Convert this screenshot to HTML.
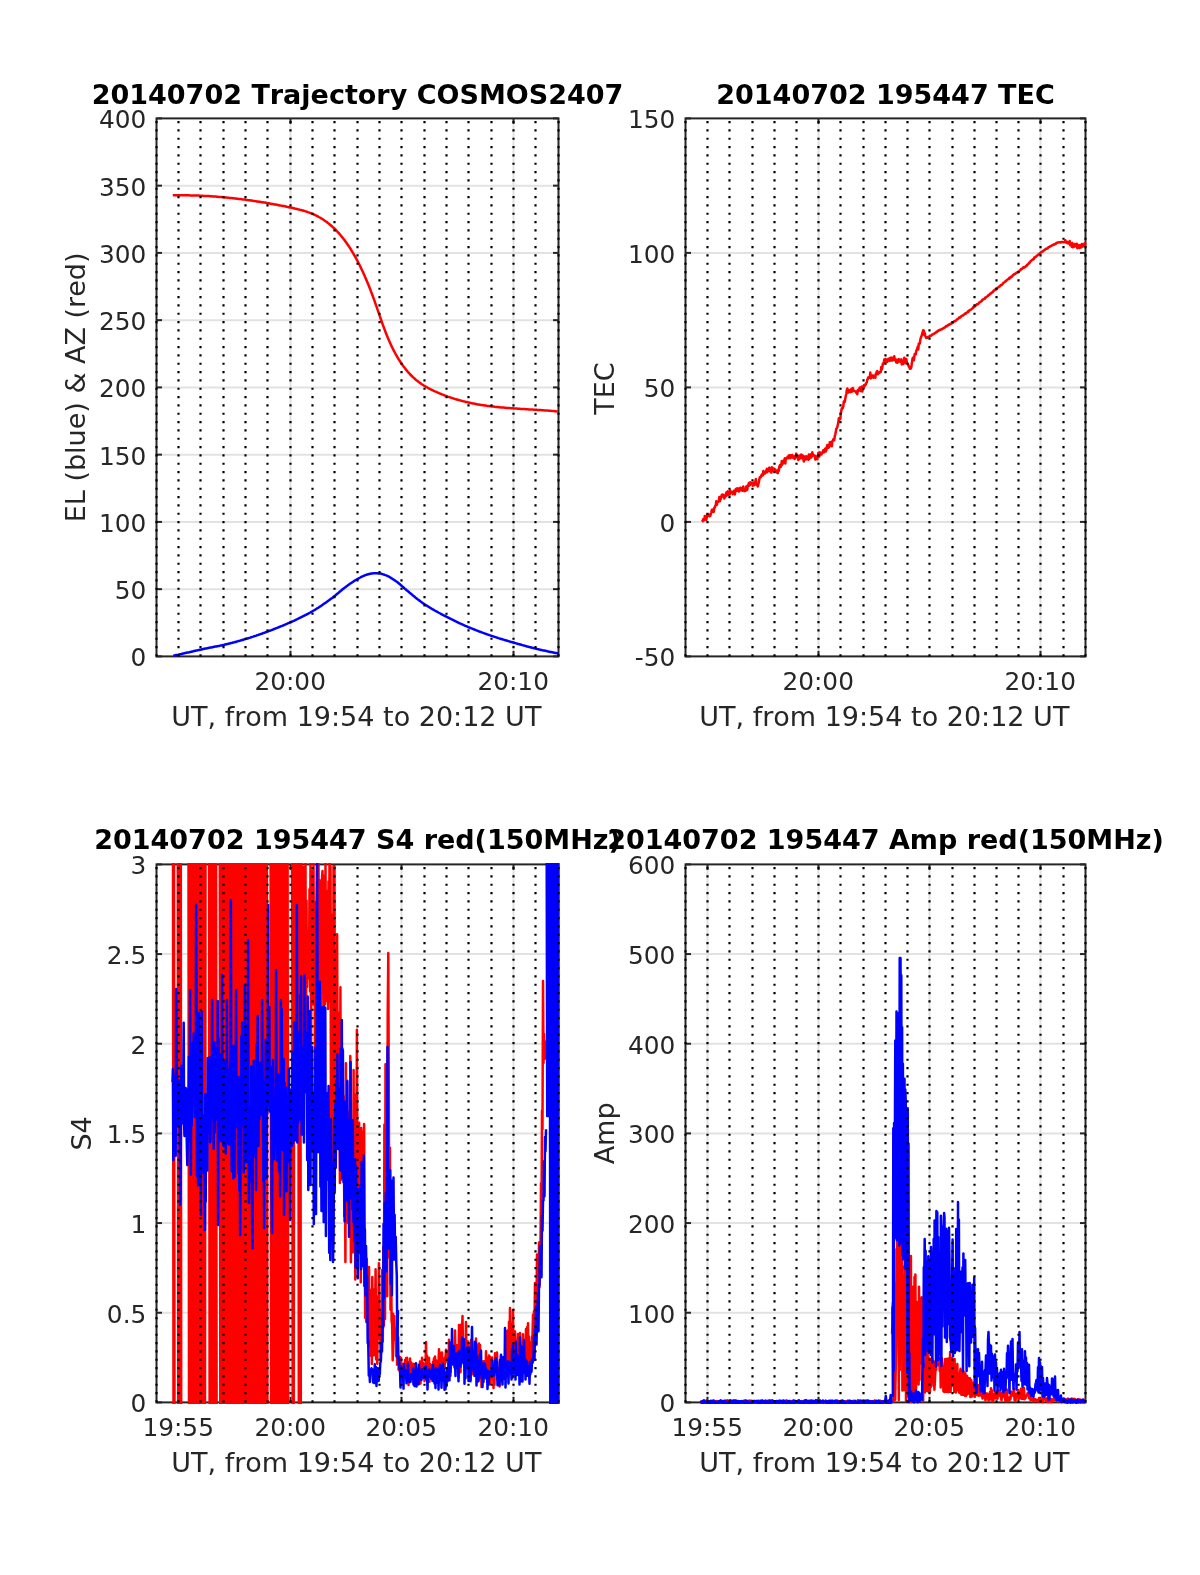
<!DOCTYPE html><html><head><meta charset="utf-8"><title>figure</title><style>html,body{margin:0;padding:0;background:#fff}svg{display:block;will-change:transform}text{font-kerning:none}</style></head><body>
<svg width="1200" height="1575" viewBox="0 0 1200 1575" font-family="'DejaVu Sans','Liberation Sans',sans-serif" font-size="24.8" fill="#262626">
<defs><clipPath id="c1"><rect x="155.5" y="116.9" width="404.0" height="541.0"/></clipPath><clipPath id="c2"><rect x="684.5" y="116.9" width="402.0" height="541.0"/></clipPath><clipPath id="c3"><rect x="155.5" y="862.9" width="404.0" height="541.0000000000001"/></clipPath><clipPath id="c4"><rect x="684.5" y="862.9" width="402.0" height="541.0000000000001"/></clipPath></defs>
<rect width="1200" height="1575" fill="#fff"/>
<line x1="156.5" y1="589.15" x2="558.5" y2="589.15" stroke="#e2e2e2" stroke-width="2"/>
<line x1="156.5" y1="521.90" x2="558.5" y2="521.90" stroke="#e2e2e2" stroke-width="2"/>
<line x1="156.5" y1="454.65" x2="558.5" y2="454.65" stroke="#e2e2e2" stroke-width="2"/>
<line x1="156.5" y1="387.40" x2="558.5" y2="387.40" stroke="#e2e2e2" stroke-width="2"/>
<line x1="156.5" y1="320.15" x2="558.5" y2="320.15" stroke="#e2e2e2" stroke-width="2"/>
<line x1="156.5" y1="252.90" x2="558.5" y2="252.90" stroke="#e2e2e2" stroke-width="2"/>
<line x1="156.5" y1="185.65" x2="558.5" y2="185.65" stroke="#e2e2e2" stroke-width="2"/>
<line x1="290.50" y1="118.4" x2="290.50" y2="656.4" stroke="#e2e2e2" stroke-width="2"/>
<line x1="513.50" y1="118.4" x2="513.50" y2="656.4" stroke="#e2e2e2" stroke-width="2"/>
<rect x="156.5" y="118.4" width="402.0" height="538.0" fill="none" stroke="#262626" stroke-width="2"/>
<line x1="156.5" y1="656.40" x2="162.0" y2="656.40" stroke="#262626" stroke-width="2"/>
<line x1="558.5" y1="656.40" x2="553.0" y2="656.40" stroke="#262626" stroke-width="2"/>
<line x1="156.5" y1="589.15" x2="162.0" y2="589.15" stroke="#262626" stroke-width="2"/>
<line x1="558.5" y1="589.15" x2="553.0" y2="589.15" stroke="#262626" stroke-width="2"/>
<line x1="156.5" y1="521.90" x2="162.0" y2="521.90" stroke="#262626" stroke-width="2"/>
<line x1="558.5" y1="521.90" x2="553.0" y2="521.90" stroke="#262626" stroke-width="2"/>
<line x1="156.5" y1="454.65" x2="162.0" y2="454.65" stroke="#262626" stroke-width="2"/>
<line x1="558.5" y1="454.65" x2="553.0" y2="454.65" stroke="#262626" stroke-width="2"/>
<line x1="156.5" y1="387.40" x2="162.0" y2="387.40" stroke="#262626" stroke-width="2"/>
<line x1="558.5" y1="387.40" x2="553.0" y2="387.40" stroke="#262626" stroke-width="2"/>
<line x1="156.5" y1="320.15" x2="162.0" y2="320.15" stroke="#262626" stroke-width="2"/>
<line x1="558.5" y1="320.15" x2="553.0" y2="320.15" stroke="#262626" stroke-width="2"/>
<line x1="156.5" y1="252.90" x2="162.0" y2="252.90" stroke="#262626" stroke-width="2"/>
<line x1="558.5" y1="252.90" x2="553.0" y2="252.90" stroke="#262626" stroke-width="2"/>
<line x1="156.5" y1="185.65" x2="162.0" y2="185.65" stroke="#262626" stroke-width="2"/>
<line x1="558.5" y1="185.65" x2="553.0" y2="185.65" stroke="#262626" stroke-width="2"/>
<line x1="156.5" y1="118.40" x2="162.0" y2="118.40" stroke="#262626" stroke-width="2"/>
<line x1="558.5" y1="118.40" x2="553.0" y2="118.40" stroke="#262626" stroke-width="2"/>
<line x1="290.50" y1="656.4" x2="290.50" y2="650.9" stroke="#262626" stroke-width="2"/>
<line x1="290.50" y1="118.4" x2="290.50" y2="123.9" stroke="#262626" stroke-width="2"/>
<line x1="513.50" y1="656.4" x2="513.50" y2="650.9" stroke="#262626" stroke-width="2"/>
<line x1="513.50" y1="118.4" x2="513.50" y2="123.9" stroke="#262626" stroke-width="2"/>
<g clip-path="url(#c1)" fill="none" stroke-linejoin="round">
<polyline points="172.8,195.3 173.8,195.3 174.8,195.3 175.8,195.3 176.8,195.3 177.8,195.3 178.8,195.3 179.8,195.3 180.8,195.3 181.8,195.3 182.8,195.3 183.8,195.3 184.8,195.3 185.8,195.3 186.8,195.3 187.8,195.3 188.8,195.3 189.8,195.4 190.8,195.4 191.8,195.4 192.8,195.4 193.8,195.5 194.8,195.5 195.8,195.5 196.8,195.6 197.8,195.6 198.8,195.6 199.8,195.7 200.8,195.7 201.8,195.8 202.8,195.8 203.8,195.9 204.8,195.9 205.8,196.0 206.8,196.0 207.8,196.1 208.8,196.1 209.8,196.2 210.8,196.3 211.8,196.3 212.8,196.4 213.8,196.5 214.8,196.5 215.8,196.6 216.8,196.7 217.8,196.8 218.8,196.9 219.8,196.9 220.8,197.0 221.8,197.1 222.8,197.2 223.8,197.3 224.8,197.4 225.8,197.5 226.8,197.6 227.8,197.7 228.8,197.8 229.8,197.9 230.8,198.0 231.8,198.1 232.8,198.2 233.8,198.3 234.8,198.4 235.8,198.5 236.8,198.7 237.8,198.8 238.8,198.9 239.8,199.0 240.8,199.1 241.8,199.3 242.8,199.4 243.8,199.5 244.8,199.6 245.8,199.8 246.8,199.9 247.8,200.1 248.8,200.2 249.8,200.3 250.8,200.5 251.8,200.6 252.8,200.8 253.8,200.9 254.8,201.1 255.8,201.2 256.8,201.4 257.8,201.5 258.8,201.7 259.8,201.8 260.8,202.0 261.8,202.2 262.8,202.3 263.8,202.5 264.8,202.6 265.8,202.8 266.8,203.0 267.8,203.2 268.8,203.3 269.8,203.5 270.8,203.7 271.8,203.9 272.8,204.0 273.8,204.2 274.8,204.4 275.8,204.6 276.8,204.8 277.8,205.0 278.8,205.2 279.8,205.4 280.8,205.6 281.8,205.7 282.8,205.9 283.8,206.1 284.8,206.3 285.8,206.5 286.8,206.8 287.8,207.0 288.8,207.2 289.8,207.4 290.8,207.6 291.8,207.8 292.8,208.0 293.8,208.2 294.8,208.5 295.8,208.7 296.8,208.9 297.8,209.2 298.8,209.4 299.8,209.7 300.8,209.9 301.8,210.2 302.8,210.5 303.8,210.8 304.8,211.1 305.8,211.4 306.8,211.7 307.8,212.1 308.8,212.4 309.8,212.8 310.8,213.2 311.8,213.6 312.8,214.0 313.8,214.5 314.8,214.9 315.8,215.4 316.8,215.9 317.8,216.4 318.8,217.0 319.8,217.5 320.8,218.1 321.8,218.7 322.8,219.3 323.8,220.0 324.8,220.7 325.8,221.4 326.8,222.1 327.8,222.9 328.8,223.6 329.8,224.5 330.8,225.3 331.8,226.2 332.8,227.1 333.8,228.0 334.8,229.0 335.8,230.0 336.8,231.0 337.8,232.1 338.8,233.2 339.8,234.3 340.8,235.5 341.8,236.7 342.8,237.9 343.8,239.2 344.8,240.5 345.8,241.9 346.8,243.3 347.8,244.8 348.8,246.2 349.8,247.8 350.8,249.3 351.8,251.0 352.8,252.6 353.8,254.3 354.8,256.1 355.8,257.9 356.8,259.7 357.8,261.6 358.8,263.5 359.8,265.5 360.8,267.6 361.8,269.7 362.8,271.8 363.8,274.0 364.8,276.2 365.8,278.5 366.8,280.9 367.8,283.3 368.8,285.8 369.8,288.3 370.8,290.9 371.8,293.5 372.8,296.2 373.8,298.9 374.8,301.7 375.8,304.6 376.8,307.4 377.8,310.3 378.8,313.2 379.8,316.1 380.8,319.0 381.8,321.8 382.8,324.7 383.8,327.4 384.8,330.1 385.8,332.7 386.8,335.2 387.8,337.7 388.8,340.0 389.8,342.3 390.8,344.5 391.8,346.6 392.8,348.7 393.8,350.6 394.8,352.5 395.8,354.4 396.8,356.1 397.8,357.8 398.8,359.5 399.8,361.0 400.8,362.6 401.8,364.0 402.8,365.5 403.8,366.8 404.8,368.1 405.8,369.4 406.8,370.6 407.8,371.8 408.8,372.9 409.8,374.0 410.8,375.0 411.8,376.0 412.8,377.0 413.8,377.9 414.8,378.8 415.8,379.7 416.8,380.5 417.8,381.3 418.8,382.1 419.8,382.8 420.8,383.5 421.8,384.2 422.8,384.8 423.8,385.5 424.8,386.1 425.8,386.7 426.8,387.2 427.8,387.8 428.8,388.3 429.8,388.8 430.8,389.3 431.8,389.8 432.8,390.3 433.8,390.8 434.8,391.3 435.8,391.7 436.8,392.2 437.8,392.6 438.8,393.0 439.8,393.5 440.8,393.9 441.8,394.3 442.8,394.7 443.8,395.1 444.8,395.5 445.8,395.8 446.8,396.2 447.8,396.6 448.8,396.9 449.8,397.3 450.8,397.6 451.8,397.9 452.8,398.3 453.8,398.6 454.8,398.9 455.8,399.2 456.8,399.5 457.8,399.8 458.8,400.1 459.8,400.3 460.8,400.6 461.8,400.9 462.8,401.1 463.8,401.4 464.8,401.6 465.8,401.9 466.8,402.1 467.8,402.3 468.8,402.6 469.8,402.8 470.8,403.0 471.8,403.2 472.8,403.4 473.8,403.6 474.8,403.8 475.8,404.0 476.8,404.2 477.8,404.4 478.8,404.5 479.8,404.7 480.8,404.9 481.8,405.0 482.8,405.2 483.8,405.3 484.8,405.5 485.8,405.6 486.8,405.8 487.8,405.9 488.8,406.0 489.8,406.2 490.8,406.3 491.8,406.4 492.8,406.5 493.8,406.6 494.8,406.8 495.8,406.9 496.8,407.0 497.8,407.1 498.8,407.2 499.8,407.3 500.8,407.4 501.8,407.5 502.8,407.6 503.8,407.6 504.8,407.7 505.8,407.8 506.8,407.9 507.8,408.0 508.8,408.1 509.8,408.1 510.8,408.2 511.8,408.3 512.8,408.3 513.8,408.4 514.8,408.5 515.8,408.6 516.8,408.6 517.8,408.7 518.8,408.7 519.8,408.8 520.8,408.9 521.8,408.9 522.8,409.0 523.8,409.1 524.8,409.1 525.8,409.2 526.8,409.2 527.8,409.3 528.8,409.4 529.8,409.4 530.8,409.5 531.8,409.5 532.8,409.6 533.8,409.7 534.8,409.7 535.8,409.8 536.8,409.8 537.8,409.9 538.8,410.0 539.8,410.0 540.8,410.1 541.8,410.2 542.8,410.2 543.8,410.3 544.8,410.4 545.8,410.4 546.8,410.5 547.8,410.6 548.8,410.7 549.8,410.7 550.8,410.8 551.8,410.9 552.8,411.0 553.8,411.1 554.8,411.2 555.8,411.3 556.8,411.4 557.8,411.5" stroke="#f00" stroke-width="2.5"/>
<polyline points="173.3,655.8 174.3,655.6 175.3,655.3 176.3,655.1 177.3,654.9 178.3,654.7 179.3,654.4 180.3,654.2 181.3,654.0 182.3,653.7 183.3,653.5 184.3,653.3 185.3,653.1 186.3,652.8 187.3,652.6 188.3,652.4 189.3,652.2 190.3,651.9 191.3,651.7 192.3,651.5 193.3,651.3 194.3,651.0 195.3,650.8 196.3,650.6 197.3,650.4 198.3,650.1 199.3,649.9 200.3,649.7 201.3,649.5 202.3,649.2 203.3,649.0 204.3,648.8 205.3,648.6 206.3,648.4 207.3,648.2 208.3,648.0 209.3,647.8 210.3,647.6 211.3,647.4 212.3,647.2 213.3,647.0 214.3,646.8 215.3,646.6 216.3,646.4 217.3,646.2 218.3,646.1 219.3,645.9 220.3,645.6 221.3,645.4 222.3,645.2 223.3,645.0 224.3,644.8 225.3,644.5 226.3,644.3 227.3,644.1 228.3,643.8 229.3,643.6 230.3,643.3 231.3,643.0 232.3,642.8 233.3,642.5 234.3,642.3 235.3,642.0 236.3,641.7 237.3,641.4 238.3,641.1 239.3,640.9 240.3,640.6 241.3,640.3 242.3,640.0 243.3,639.7 244.3,639.4 245.3,639.1 246.3,638.8 247.3,638.5 248.3,638.2 249.3,637.9 250.3,637.6 251.3,637.2 252.3,636.9 253.3,636.6 254.3,636.2 255.3,635.9 256.3,635.6 257.3,635.2 258.3,634.9 259.3,634.5 260.3,634.2 261.3,633.8 262.3,633.5 263.3,633.1 264.3,632.8 265.3,632.4 266.3,632.0 267.3,631.7 268.3,631.3 269.3,630.9 270.3,630.5 271.3,630.2 272.3,629.8 273.3,629.4 274.3,629.0 275.3,628.6 276.3,628.2 277.3,627.8 278.3,627.4 279.3,627.0 280.3,626.6 281.3,626.2 282.3,625.8 283.3,625.4 284.3,625.0 285.3,624.5 286.3,624.1 287.3,623.7 288.3,623.2 289.3,622.8 290.3,622.4 291.3,621.9 292.3,621.5 293.3,621.0 294.3,620.6 295.3,620.1 296.3,619.6 297.3,619.2 298.3,618.7 299.3,618.2 300.3,617.7 301.3,617.2 302.3,616.7 303.3,616.2 304.3,615.7 305.3,615.2 306.3,614.7 307.3,614.1 308.3,613.6 309.3,613.0 310.3,612.5 311.3,611.9 312.3,611.4 313.3,610.8 314.3,610.2 315.3,609.6 316.3,608.9 317.3,608.3 318.3,607.7 319.3,607.0 320.3,606.4 321.3,605.7 322.3,605.0 323.3,604.3 324.3,603.6 325.3,602.9 326.3,602.2 327.3,601.5 328.3,600.8 329.3,600.1 330.3,599.3 331.3,598.6 332.3,597.9 333.3,597.1 334.3,596.3 335.3,595.5 336.3,594.6 337.3,593.8 338.3,593.0 339.3,592.1 340.3,591.3 341.3,590.4 342.3,589.6 343.3,588.8 344.3,588.0 345.3,587.3 346.3,586.5 347.3,585.8 348.3,585.0 349.3,584.3 350.3,583.6 351.3,582.9 352.3,582.2 353.3,581.6 354.3,580.9 355.3,580.3 356.3,579.7 357.3,579.1 358.3,578.6 359.3,578.0 360.3,577.5 361.3,576.9 362.3,576.5 363.3,576.0 364.3,575.6 365.3,575.2 366.3,574.8 367.3,574.5 368.3,574.2 369.3,573.9 370.3,573.7 371.3,573.5 372.3,573.4 373.3,573.3 374.3,573.2 375.3,573.2 376.3,573.3 377.3,573.3 378.3,573.4 379.3,573.5 380.3,573.6 381.3,573.8 382.3,574.1 383.3,574.4 384.3,574.7 385.3,575.1 386.3,575.4 387.3,575.9 388.3,576.3 389.3,576.9 390.3,577.5 391.3,578.1 392.3,578.7 393.3,579.4 394.3,580.0 395.3,580.7 396.3,581.4 397.3,582.1 398.3,582.9 399.3,583.8 400.3,584.6 401.3,585.5 402.3,586.4 403.3,587.3 404.3,588.2 405.3,589.0 406.3,589.9 407.3,590.7 408.3,591.5 409.3,592.4 410.3,593.2 411.3,594.0 412.3,594.9 413.3,595.7 414.3,596.5 415.3,597.4 416.3,598.2 417.3,599.0 418.3,599.7 419.3,600.5 420.3,601.3 421.3,602.0 422.3,602.7 423.3,603.4 424.3,604.1 425.3,604.7 426.3,605.4 427.3,606.0 428.3,606.6 429.3,607.3 430.3,607.9 431.3,608.5 432.3,609.1 433.3,609.6 434.3,610.2 435.3,610.8 436.3,611.3 437.3,611.9 438.3,612.5 439.3,613.0 440.3,613.5 441.3,614.1 442.3,614.6 443.3,615.1 444.3,615.7 445.3,616.2 446.3,616.7 447.3,617.2 448.3,617.7 449.3,618.2 450.3,618.7 451.3,619.2 452.3,619.7 453.3,620.2 454.3,620.7 455.3,621.2 456.3,621.7 457.3,622.1 458.3,622.6 459.3,623.1 460.3,623.5 461.3,624.0 462.3,624.4 463.3,624.9 464.3,625.3 465.3,625.8 466.3,626.2 467.3,626.6 468.3,627.1 469.3,627.5 470.3,627.9 471.3,628.3 472.3,628.7 473.3,629.1 474.3,629.5 475.3,629.9 476.3,630.3 477.3,630.7 478.3,631.1 479.3,631.5 480.3,631.8 481.3,632.2 482.3,632.6 483.3,632.9 484.3,633.3 485.3,633.7 486.3,634.0 487.3,634.4 488.3,634.7 489.3,635.1 490.3,635.4 491.3,635.8 492.3,636.1 493.3,636.4 494.3,636.8 495.3,637.1 496.3,637.4 497.3,637.7 498.3,638.1 499.3,638.4 500.3,638.7 501.3,639.0 502.3,639.3 503.3,639.6 504.3,639.9 505.3,640.2 506.3,640.5 507.3,640.8 508.3,641.1 509.3,641.4 510.3,641.7 511.3,642.0 512.3,642.2 513.3,642.5 514.3,642.8 515.3,643.1 516.3,643.4 517.3,643.7 518.3,644.0 519.3,644.2 520.3,644.5 521.3,644.8 522.3,645.1 523.3,645.4 524.3,645.6 525.3,645.9 526.3,646.2 527.3,646.5 528.3,646.7 529.3,647.0 530.3,647.2 531.3,647.5 532.3,647.8 533.3,648.0 534.3,648.3 535.3,648.5 536.3,648.7 537.3,649.0 538.3,649.2 539.3,649.5 540.3,649.7 541.3,649.9 542.3,650.2 543.3,650.4 544.3,650.6 545.3,650.8 546.3,651.0 547.3,651.3 548.3,651.5 549.3,651.7 550.3,651.9 551.3,652.1 552.3,652.3 553.3,652.5 554.3,652.7 555.3,652.9 556.3,653.1 557.3,653.3 558.3,653.5" stroke="#00f" stroke-width="2.5"/>
</g>
<line x1="156.50" y1="656.4" x2="156.50" y2="118.4" stroke="#000" stroke-width="2.2" stroke-dasharray="2.2 6.133" stroke-dashoffset="0.1"/>
<line x1="178.50" y1="656.4" x2="178.50" y2="118.4" stroke="#000" stroke-width="2.2" stroke-dasharray="2.2 6.133" stroke-dashoffset="0.1"/>
<line x1="200.50" y1="656.4" x2="200.50" y2="118.4" stroke="#000" stroke-width="2.2" stroke-dasharray="2.2 6.133" stroke-dashoffset="0.1"/>
<line x1="223.50" y1="656.4" x2="223.50" y2="118.4" stroke="#000" stroke-width="2.2" stroke-dasharray="2.2 6.133" stroke-dashoffset="0.1"/>
<line x1="245.50" y1="656.4" x2="245.50" y2="118.4" stroke="#000" stroke-width="2.2" stroke-dasharray="2.2 6.133" stroke-dashoffset="0.1"/>
<line x1="267.50" y1="656.4" x2="267.50" y2="118.4" stroke="#000" stroke-width="2.2" stroke-dasharray="2.2 6.133" stroke-dashoffset="0.1"/>
<line x1="290.50" y1="656.4" x2="290.50" y2="118.4" stroke="#000" stroke-width="2.2" stroke-dasharray="2.2 6.133" stroke-dashoffset="0.1"/>
<line x1="312.50" y1="656.4" x2="312.50" y2="118.4" stroke="#000" stroke-width="2.2" stroke-dasharray="2.2 6.133" stroke-dashoffset="0.1"/>
<line x1="334.50" y1="656.4" x2="334.50" y2="118.4" stroke="#000" stroke-width="2.2" stroke-dasharray="2.2 6.133" stroke-dashoffset="0.1"/>
<line x1="357.50" y1="656.4" x2="357.50" y2="118.4" stroke="#000" stroke-width="2.2" stroke-dasharray="2.2 6.133" stroke-dashoffset="0.1"/>
<line x1="379.50" y1="656.4" x2="379.50" y2="118.4" stroke="#000" stroke-width="2.2" stroke-dasharray="2.2 6.133" stroke-dashoffset="0.1"/>
<line x1="401.50" y1="656.4" x2="401.50" y2="118.4" stroke="#000" stroke-width="2.2" stroke-dasharray="2.2 6.133" stroke-dashoffset="0.1"/>
<line x1="424.50" y1="656.4" x2="424.50" y2="118.4" stroke="#000" stroke-width="2.2" stroke-dasharray="2.2 6.133" stroke-dashoffset="0.1"/>
<line x1="446.50" y1="656.4" x2="446.50" y2="118.4" stroke="#000" stroke-width="2.2" stroke-dasharray="2.2 6.133" stroke-dashoffset="0.1"/>
<line x1="468.50" y1="656.4" x2="468.50" y2="118.4" stroke="#000" stroke-width="2.2" stroke-dasharray="2.2 6.133" stroke-dashoffset="0.1"/>
<line x1="491.50" y1="656.4" x2="491.50" y2="118.4" stroke="#000" stroke-width="2.2" stroke-dasharray="2.2 6.133" stroke-dashoffset="0.1"/>
<line x1="513.50" y1="656.4" x2="513.50" y2="118.4" stroke="#000" stroke-width="2.2" stroke-dasharray="2.2 6.133" stroke-dashoffset="0.1"/>
<line x1="535.50" y1="656.4" x2="535.50" y2="118.4" stroke="#000" stroke-width="2.2" stroke-dasharray="2.2 6.133" stroke-dashoffset="0.1"/>
<line x1="558.50" y1="656.4" x2="558.50" y2="118.4" stroke="#000" stroke-width="2.2" stroke-dasharray="2.2 6.133" stroke-dashoffset="0.1"/>
<text x="146.30" y="666.30" text-anchor="end">0</text>
<text x="146.30" y="599.05" text-anchor="end">50</text>
<text x="146.30" y="531.80" text-anchor="end">100</text>
<text x="146.30" y="464.55" text-anchor="end">150</text>
<text x="146.30" y="397.30" text-anchor="end">200</text>
<text x="146.30" y="330.05" text-anchor="end">250</text>
<text x="146.30" y="262.80" text-anchor="end">300</text>
<text x="146.30" y="195.55" text-anchor="end">350</text>
<text x="146.30" y="128.30" text-anchor="end">400</text>
<text x="290.20" y="690.10" text-anchor="middle">20:00</text>
<text x="513.20" y="690.10" text-anchor="middle">20:10</text>
<text x="357.50" y="103.90" text-anchor="middle" font-size="27" font-weight="bold" fill="#000">20140702 Trajectory COSMOS2407</text>
<text x="356.30" y="725.80" text-anchor="middle" font-size="27">UT, from 19:54 to 20:12 UT</text>
<text transform="translate(84.80,387.40) rotate(-90)" x="0" y="0" text-anchor="middle" font-size="27">EL (blue) &amp; AZ (red)</text>
<line x1="685.5" y1="521.90" x2="1085.5" y2="521.90" stroke="#e2e2e2" stroke-width="2"/>
<line x1="685.5" y1="387.40" x2="1085.5" y2="387.40" stroke="#e2e2e2" stroke-width="2"/>
<line x1="685.5" y1="252.90" x2="1085.5" y2="252.90" stroke="#e2e2e2" stroke-width="2"/>
<line x1="818.50" y1="118.4" x2="818.50" y2="656.4" stroke="#e2e2e2" stroke-width="2"/>
<line x1="1040.50" y1="118.4" x2="1040.50" y2="656.4" stroke="#e2e2e2" stroke-width="2"/>
<rect x="685.5" y="118.4" width="400.0" height="538.0" fill="none" stroke="#262626" stroke-width="2"/>
<line x1="685.5" y1="656.40" x2="691.0" y2="656.40" stroke="#262626" stroke-width="2"/>
<line x1="1085.5" y1="656.40" x2="1080.0" y2="656.40" stroke="#262626" stroke-width="2"/>
<line x1="685.5" y1="521.90" x2="691.0" y2="521.90" stroke="#262626" stroke-width="2"/>
<line x1="1085.5" y1="521.90" x2="1080.0" y2="521.90" stroke="#262626" stroke-width="2"/>
<line x1="685.5" y1="387.40" x2="691.0" y2="387.40" stroke="#262626" stroke-width="2"/>
<line x1="1085.5" y1="387.40" x2="1080.0" y2="387.40" stroke="#262626" stroke-width="2"/>
<line x1="685.5" y1="252.90" x2="691.0" y2="252.90" stroke="#262626" stroke-width="2"/>
<line x1="1085.5" y1="252.90" x2="1080.0" y2="252.90" stroke="#262626" stroke-width="2"/>
<line x1="685.5" y1="118.40" x2="691.0" y2="118.40" stroke="#262626" stroke-width="2"/>
<line x1="1085.5" y1="118.40" x2="1080.0" y2="118.40" stroke="#262626" stroke-width="2"/>
<line x1="818.50" y1="656.4" x2="818.50" y2="650.9" stroke="#262626" stroke-width="2"/>
<line x1="818.50" y1="118.4" x2="818.50" y2="123.9" stroke="#262626" stroke-width="2"/>
<line x1="1040.50" y1="656.4" x2="1040.50" y2="650.9" stroke="#262626" stroke-width="2"/>
<line x1="1040.50" y1="118.4" x2="1040.50" y2="123.9" stroke="#262626" stroke-width="2"/>
<g clip-path="url(#c2)" fill="none" stroke-linejoin="round">
<polyline points="701.8,519.4 702.3,519.6 702.8,521.2 703.3,519.2 703.8,520.3 704.3,520.2 704.8,516.0 705.3,519.4 705.8,516.2 706.3,519.9 706.8,517.2 707.3,514.6 707.8,515.3 708.3,514.9 708.8,514.8 709.3,516.2 709.8,514.5 710.3,515.9 710.8,514.0 711.3,512.3 711.8,509.9 712.3,509.5 712.8,511.8 713.3,511.7 713.8,511.9 714.3,507.7 714.8,507.8 715.3,505.5 715.8,505.2 716.3,501.2 716.8,505.1 717.3,501.8 717.8,501.9 718.3,501.8 718.8,500.7 719.3,497.1 719.8,501.3 720.3,499.7 720.8,498.9 721.3,496.7 721.8,494.9 722.3,494.5 722.8,496.4 723.3,496.6 723.8,494.9 724.3,498.6 724.8,495.8 725.3,496.6 725.8,496.1 726.3,492.6 726.8,495.5 727.3,494.3 727.8,491.3 728.3,494.3 728.8,494.8 729.3,494.5 729.8,494.6 730.3,490.5 730.8,492.3 731.3,491.7 731.8,492.6 732.3,492.6 732.8,494.1 733.3,493.4 733.8,490.8 734.3,493.4 734.8,494.4 735.3,492.1 735.8,489.0 736.3,490.2 736.8,490.8 737.3,488.3 737.8,490.5 738.3,488.5 738.8,491.6 739.3,491.2 739.8,489.8 740.3,487.8 740.8,490.1 741.3,488.4 741.8,488.1 742.3,490.8 742.8,487.6 743.3,486.5 743.8,489.7 744.3,491.1 744.8,490.5 745.3,488.9 745.8,490.6 746.3,486.4 746.8,490.1 747.3,489.6 747.8,485.3 748.3,486.2 748.8,483.1 749.3,483.2 749.8,485.4 750.3,482.3 750.8,484.2 751.3,484.2 751.8,483.3 752.3,484.3 752.8,485.6 753.3,482.9 753.8,484.3 754.3,485.2 754.8,482.1 755.3,481.9 755.8,479.1 756.3,483.8 756.8,484.9 757.3,484.0 757.8,486.5 758.3,484.4 758.8,482.2 759.3,479.6 759.8,477.2 760.3,477.6 760.8,477.1 761.3,475.5 761.8,474.7 762.3,474.1 762.8,475.4 763.3,471.1 763.8,472.9 764.3,473.1 764.8,473.6 765.3,473.2 765.8,471.3 766.3,470.2 766.8,468.9 767.3,472.2 767.8,470.8 768.3,469.8 768.8,468.1 769.3,467.6 769.8,471.3 770.3,469.5 770.8,470.4 771.3,472.6 771.8,467.3 772.3,468.6 772.8,470.5 773.3,471.0 773.8,468.4 774.3,470.1 774.8,469.3 775.3,469.4 775.8,471.0 776.3,470.8 776.8,472.5 777.3,471.6 777.8,473.1 778.3,469.5 778.8,470.9 779.3,466.8 779.8,465.3 780.3,464.7 780.8,467.0 781.3,465.1 781.8,461.0 782.3,464.7 782.8,463.2 783.3,461.0 783.8,460.5 784.3,460.5 784.8,458.2 785.3,463.6 785.8,458.7 786.3,458.8 786.8,458.3 787.3,457.3 787.8,456.6 788.3,458.2 788.8,455.4 789.3,455.3 789.8,455.6 790.3,458.2 790.8,455.2 791.3,455.2 791.8,457.2 792.3,454.9 792.8,456.1 793.3,458.0 793.8,457.2 794.3,456.5 794.8,458.9 795.3,455.7 795.8,455.3 796.3,453.6 796.8,456.6 797.3,457.7 797.8,455.7 798.3,460.0 798.8,458.8 799.3,458.7 799.8,455.5 800.3,458.0 800.8,458.3 801.3,454.6 801.8,458.0 802.3,457.8 802.8,455.5 803.3,458.9 803.8,461.4 804.3,459.2 804.8,456.5 805.3,457.4 805.8,459.5 806.3,456.2 806.8,458.0 807.3,457.4 807.8,457.6 808.3,459.8 808.8,454.6 809.3,458.9 809.8,457.4 810.3,456.8 810.8,454.3 811.3,457.5 811.8,456.3 812.3,452.3 812.8,454.8 813.3,455.1 813.8,455.4 814.3,456.0 814.8,455.6 815.3,459.5 815.8,458.7 816.3,456.6 816.8,458.5 817.3,459.3 817.8,456.2 818.3,452.9 818.8,455.2 819.3,456.5 819.8,452.2 820.3,453.4 820.8,454.6 821.3,454.6 821.8,453.7 822.3,452.6 822.8,451.4 823.3,450.3 823.8,452.4 824.3,452.0 824.8,449.3 825.3,448.6 825.8,451.4 826.3,450.4 826.8,447.0 827.3,445.0 827.8,447.3 828.3,447.8 828.8,447.4 829.3,446.6 829.8,442.2 830.3,444.2 830.8,442.9 831.3,441.7 831.8,446.3 832.3,441.3 832.8,441.0 833.3,439.3 833.8,440.1 834.3,440.2 834.8,435.9 835.3,434.3 835.8,431.7 836.3,428.8 836.8,428.2 837.3,427.1 837.8,424.7 838.3,422.6 838.8,418.3 839.3,420.2 839.8,418.2 840.3,418.8 840.8,413.6 841.3,410.7 841.8,408.2 842.3,408.6 842.8,407.8 843.3,406.4 843.8,401.5 844.3,401.3 844.8,401.9 845.3,398.5 845.8,395.9 846.3,394.0 846.8,390.1 847.3,388.5 847.8,389.8 848.3,392.6 848.8,392.4 849.3,390.2 849.8,391.4 850.3,391.0 850.8,392.1 851.3,389.0 851.8,390.5 852.3,391.5 852.8,388.0 853.3,389.9 853.8,390.5 854.3,390.9 854.8,391.1 855.3,391.3 855.8,392.1 856.3,392.8 856.8,391.2 857.3,394.2 857.8,390.0 858.3,390.2 858.8,390.8 859.3,388.7 859.8,387.4 860.3,387.4 860.8,391.1 861.3,387.9 861.8,386.6 862.3,391.5 862.8,388.8 863.3,387.8 863.8,385.3 864.3,386.6 864.8,384.7 865.3,385.3 865.8,384.2 866.3,382.9 866.8,382.5 867.3,379.5 867.8,379.1 868.3,377.4 868.8,378.1 869.3,377.5 869.8,377.0 870.3,372.6 870.8,378.4 871.3,375.3 871.8,375.5 872.3,375.6 872.8,375.6 873.3,377.7 873.8,375.9 874.3,376.1 874.8,377.2 875.3,377.8 875.8,373.7 876.3,373.0 876.8,371.5 877.3,371.1 877.8,374.3 878.3,373.6 878.8,373.0 879.3,373.1 879.8,372.0 880.3,372.3 880.8,372.0 881.3,366.9 881.8,369.5 882.3,367.7 882.8,363.7 883.3,364.1 883.8,362.1 884.3,359.5 884.8,362.0 885.3,359.1 885.8,361.5 886.3,359.5 886.8,360.4 887.3,361.9 887.8,360.6 888.3,358.8 888.8,360.2 889.3,360.7 889.8,360.9 890.3,357.8 890.8,360.6 891.3,358.3 891.8,357.6 892.3,360.5 892.8,359.8 893.3,360.0 893.8,359.3 894.3,356.3 894.8,360.1 895.3,360.4 895.8,359.4 896.3,362.5 896.8,360.1 897.3,362.8 897.8,362.1 898.3,359.3 898.8,359.1 899.3,360.0 899.8,360.5 900.3,361.8 900.8,359.8 901.3,359.2 901.8,364.4 902.3,361.1 902.8,361.6 903.3,364.0 903.8,361.5 904.3,357.7 904.8,362.2 905.3,360.6 905.8,363.2 906.3,358.9 906.8,362.1 907.3,363.2 907.8,364.2 908.3,364.9 908.8,366.6 909.3,366.9 909.8,368.6 910.3,367.9 910.8,368.7 911.3,367.3 911.8,363.4 912.3,359.8 912.8,357.8 913.3,358.0 913.8,360.2 914.3,356.8 914.8,353.8 915.3,353.6 915.8,354.3 916.3,350.7 916.8,349.8 917.3,348.5 917.8,346.5 918.3,349.5 918.8,343.5 919.3,343.6 919.8,343.5 920.3,339.8 920.8,337.8 921.3,336.6 921.8,335.2 922.3,333.3 922.8,331.5 923.3,330.1 923.8,330.7 924.3,335.0 924.8,333.3 925.3,335.8 925.8,337.2 926.3,338.0 926.8,337.6 927.3,337.7 927.8,337.0 928.3,337.1 928.8,336.6 929.3,336.8 929.8,335.9 930.3,336.1 930.8,335.9 931.3,335.4 931.8,334.8 932.3,334.7 932.8,334.4 933.3,334.0 933.8,333.9 934.3,333.4 934.8,333.2 935.3,333.1 935.8,332.5 936.3,332.1 936.8,332.0 937.3,331.5 937.8,330.8 938.3,330.9 938.8,330.7 939.3,330.1 939.8,329.7 940.3,330.0 940.8,329.4 941.3,329.4 941.8,329.1 942.3,329.1 942.8,328.5 943.3,328.3 943.8,328.1 944.3,327.4 944.8,327.5 945.3,327.2 945.8,326.2 946.3,326.1 946.8,326.1 947.3,326.2 947.8,325.4 948.3,324.9 948.8,324.5 949.3,324.7 949.8,324.4 950.3,323.8 950.8,323.8 951.3,323.3 951.8,323.4 952.3,322.5 952.8,322.3 953.3,322.4 953.8,321.6 954.3,321.2 954.8,321.0 955.3,321.2 955.8,320.4 956.3,320.4 956.8,319.5 957.3,319.3 957.8,319.2 958.3,318.7 958.8,318.2 959.3,317.4 959.8,317.7 960.3,317.4 960.8,317.0 961.3,316.1 961.8,315.9 962.3,315.7 962.8,315.3 963.3,315.4 963.8,314.6 964.3,314.4 964.8,313.9 965.3,313.4 965.8,313.7 966.3,313.1 966.8,312.6 967.3,312.4 967.8,311.5 968.3,312.0 968.8,310.9 969.3,310.3 969.8,310.1 970.3,310.0 970.8,309.6 971.3,309.3 971.8,308.9 972.3,308.4 972.8,308.2 973.3,307.1 973.8,307.3 974.3,306.9 974.8,306.4 975.3,305.9 975.8,305.4 976.3,305.0 976.8,304.3 977.3,304.2 977.8,304.2 978.3,303.9 978.8,303.0 979.3,302.6 979.8,302.2 980.3,301.9 980.8,301.5 981.3,301.2 981.8,301.1 982.3,299.8 982.8,299.7 983.3,299.4 983.8,299.1 984.3,298.8 984.8,298.7 985.3,297.6 985.8,297.6 986.3,297.0 986.8,296.7 987.3,296.3 987.8,296.0 988.3,295.5 988.8,294.7 989.3,294.7 989.8,294.3 990.3,293.4 990.8,293.5 991.3,293.0 991.8,292.5 992.3,292.2 992.8,292.2 993.3,290.9 993.8,291.0 994.3,290.1 994.8,290.1 995.3,289.9 995.8,288.8 996.3,289.2 996.8,288.6 997.3,288.0 997.8,287.6 998.3,287.3 998.8,286.9 999.3,286.4 999.8,286.3 1000.3,285.8 1000.8,285.0 1001.3,285.1 1001.8,284.9 1002.3,284.4 1002.8,283.7 1003.3,282.8 1003.8,282.6 1004.3,282.3 1004.8,281.9 1005.3,281.2 1005.8,281.3 1006.3,281.0 1006.8,280.0 1007.3,279.7 1007.8,279.3 1008.3,279.1 1008.8,279.0 1009.3,277.8 1009.8,278.3 1010.3,277.7 1010.8,276.8 1011.3,277.1 1011.8,276.6 1012.3,276.0 1012.8,275.5 1013.3,274.8 1013.8,274.8 1014.3,274.1 1014.8,274.0 1015.3,273.9 1015.8,273.2 1016.3,272.8 1016.8,272.7 1017.3,272.5 1017.8,272.1 1018.3,271.5 1018.8,271.5 1019.3,271.2 1019.8,270.4 1020.3,270.3 1020.8,269.3 1021.3,269.4 1021.8,268.8 1022.3,268.7 1022.8,268.2 1023.3,267.4 1023.8,267.8 1024.3,267.0 1024.8,267.2 1025.3,266.9 1025.8,266.4 1026.3,265.9 1026.8,265.6 1027.3,264.6 1027.8,264.4 1028.3,264.0 1028.8,263.4 1029.3,262.4 1029.8,262.4 1030.3,261.7 1030.8,260.9 1031.3,260.8 1031.8,260.0 1032.3,259.7 1032.8,259.3 1033.3,259.4 1033.8,259.1 1034.3,257.6 1034.8,257.5 1035.3,257.1 1035.8,256.9 1036.3,256.4 1036.8,255.7 1037.3,255.6 1037.8,254.9 1038.3,254.4 1038.8,254.4 1039.3,253.9 1039.8,253.3 1040.3,253.2 1040.8,252.5 1041.3,252.1 1041.8,251.9 1042.3,251.7 1042.8,251.1 1043.3,251.2 1043.8,250.4 1044.3,250.2 1044.8,250.0 1045.3,249.4 1045.8,248.9 1046.3,248.7 1046.8,248.7 1047.3,248.5 1047.8,248.0 1048.3,247.5 1048.8,247.1 1049.3,246.9 1049.8,246.6 1050.3,246.5 1050.8,246.1 1051.3,245.7 1051.8,245.7 1052.3,245.1 1052.8,245.1 1053.3,244.6 1053.8,244.8 1054.3,244.4 1054.8,244.1 1055.3,244.1 1055.8,243.8 1056.3,243.0 1056.8,243.1 1057.3,242.6 1057.8,242.6 1058.3,242.6 1058.8,242.2 1059.3,242.2 1059.8,242.4 1060.3,242.3 1060.8,242.4 1061.3,242.1 1061.8,242.0 1062.3,242.1 1062.8,242.1 1063.3,242.0 1063.8,242.3 1064.3,242.0 1064.8,242.0 1065.3,240.3 1065.8,242.6 1066.3,241.7 1066.8,242.4 1067.3,243.1 1067.8,241.9 1068.3,243.5 1068.8,243.5 1069.3,243.5 1069.8,241.1 1070.3,245.3 1070.8,244.7 1071.3,245.0 1071.8,246.7 1072.3,243.1 1072.8,247.3 1073.3,244.5 1073.8,246.2 1074.3,246.7 1074.8,243.9 1075.3,245.8 1075.8,244.8 1076.3,246.3 1076.8,243.8 1077.3,248.2 1077.8,246.6 1078.3,245.7 1078.8,245.0 1079.3,248.1 1079.8,245.7 1080.3,247.6 1080.8,245.0 1081.3,247.4 1081.8,243.9 1082.3,246.6 1082.8,244.4 1083.3,244.0 1083.8,246.3 1084.3,245.7 1084.8,243.5 1085.3,243.0 1085.8,245.1" stroke="#f00" stroke-width="2.5"/>
</g>
<line x1="685.50" y1="656.4" x2="685.50" y2="118.4" stroke="#000" stroke-width="2.2" stroke-dasharray="2.2 6.133" stroke-dashoffset="0.1"/>
<line x1="707.50" y1="656.4" x2="707.50" y2="118.4" stroke="#000" stroke-width="2.2" stroke-dasharray="2.2 6.133" stroke-dashoffset="0.1"/>
<line x1="729.50" y1="656.4" x2="729.50" y2="118.4" stroke="#000" stroke-width="2.2" stroke-dasharray="2.2 6.133" stroke-dashoffset="0.1"/>
<line x1="752.50" y1="656.4" x2="752.50" y2="118.4" stroke="#000" stroke-width="2.2" stroke-dasharray="2.2 6.133" stroke-dashoffset="0.1"/>
<line x1="774.50" y1="656.4" x2="774.50" y2="118.4" stroke="#000" stroke-width="2.2" stroke-dasharray="2.2 6.133" stroke-dashoffset="0.1"/>
<line x1="796.50" y1="656.4" x2="796.50" y2="118.4" stroke="#000" stroke-width="2.2" stroke-dasharray="2.2 6.133" stroke-dashoffset="0.1"/>
<line x1="818.50" y1="656.4" x2="818.50" y2="118.4" stroke="#000" stroke-width="2.2" stroke-dasharray="2.2 6.133" stroke-dashoffset="0.1"/>
<line x1="840.50" y1="656.4" x2="840.50" y2="118.4" stroke="#000" stroke-width="2.2" stroke-dasharray="2.2 6.133" stroke-dashoffset="0.1"/>
<line x1="863.50" y1="656.4" x2="863.50" y2="118.4" stroke="#000" stroke-width="2.2" stroke-dasharray="2.2 6.133" stroke-dashoffset="0.1"/>
<line x1="885.50" y1="656.4" x2="885.50" y2="118.4" stroke="#000" stroke-width="2.2" stroke-dasharray="2.2 6.133" stroke-dashoffset="0.1"/>
<line x1="907.50" y1="656.4" x2="907.50" y2="118.4" stroke="#000" stroke-width="2.2" stroke-dasharray="2.2 6.133" stroke-dashoffset="0.1"/>
<line x1="929.50" y1="656.4" x2="929.50" y2="118.4" stroke="#000" stroke-width="2.2" stroke-dasharray="2.2 6.133" stroke-dashoffset="0.1"/>
<line x1="952.50" y1="656.4" x2="952.50" y2="118.4" stroke="#000" stroke-width="2.2" stroke-dasharray="2.2 6.133" stroke-dashoffset="0.1"/>
<line x1="974.50" y1="656.4" x2="974.50" y2="118.4" stroke="#000" stroke-width="2.2" stroke-dasharray="2.2 6.133" stroke-dashoffset="0.1"/>
<line x1="996.50" y1="656.4" x2="996.50" y2="118.4" stroke="#000" stroke-width="2.2" stroke-dasharray="2.2 6.133" stroke-dashoffset="0.1"/>
<line x1="1018.50" y1="656.4" x2="1018.50" y2="118.4" stroke="#000" stroke-width="2.2" stroke-dasharray="2.2 6.133" stroke-dashoffset="0.1"/>
<line x1="1040.50" y1="656.4" x2="1040.50" y2="118.4" stroke="#000" stroke-width="2.2" stroke-dasharray="2.2 6.133" stroke-dashoffset="0.1"/>
<line x1="1063.50" y1="656.4" x2="1063.50" y2="118.4" stroke="#000" stroke-width="2.2" stroke-dasharray="2.2 6.133" stroke-dashoffset="0.1"/>
<line x1="1085.50" y1="656.4" x2="1085.50" y2="118.4" stroke="#000" stroke-width="2.2" stroke-dasharray="2.2 6.133" stroke-dashoffset="0.1"/>
<text x="675.30" y="666.30" text-anchor="end">-50</text>
<text x="675.30" y="531.80" text-anchor="end">0</text>
<text x="675.30" y="397.30" text-anchor="end">50</text>
<text x="675.30" y="262.80" text-anchor="end">100</text>
<text x="675.30" y="128.30" text-anchor="end">150</text>
<text x="818.20" y="690.10" text-anchor="middle">20:00</text>
<text x="1040.20" y="690.10" text-anchor="middle">20:10</text>
<text x="885.50" y="103.90" text-anchor="middle" font-size="27" font-weight="bold" fill="#000">20140702 195447 TEC</text>
<text x="884.30" y="725.80" text-anchor="middle" font-size="27">UT, from 19:54 to 20:12 UT</text>
<text transform="translate(613.50,388.60) rotate(-90)" x="0" y="0" text-anchor="middle" font-size="27">TEC</text>
<line x1="156.5" y1="1312.73" x2="558.5" y2="1312.73" stroke="#e2e2e2" stroke-width="2"/>
<line x1="156.5" y1="1223.07" x2="558.5" y2="1223.07" stroke="#e2e2e2" stroke-width="2"/>
<line x1="156.5" y1="1133.40" x2="558.5" y2="1133.40" stroke="#e2e2e2" stroke-width="2"/>
<line x1="156.5" y1="1043.73" x2="558.5" y2="1043.73" stroke="#e2e2e2" stroke-width="2"/>
<line x1="156.5" y1="954.07" x2="558.5" y2="954.07" stroke="#e2e2e2" stroke-width="2"/>
<line x1="178.50" y1="864.4" x2="178.50" y2="1402.4" stroke="#e2e2e2" stroke-width="2"/>
<line x1="290.50" y1="864.4" x2="290.50" y2="1402.4" stroke="#e2e2e2" stroke-width="2"/>
<line x1="401.50" y1="864.4" x2="401.50" y2="1402.4" stroke="#e2e2e2" stroke-width="2"/>
<line x1="513.50" y1="864.4" x2="513.50" y2="1402.4" stroke="#e2e2e2" stroke-width="2"/>
<rect x="156.5" y="864.4" width="402.0" height="538.0000000000001" fill="none" stroke="#262626" stroke-width="2"/>
<line x1="156.5" y1="1402.40" x2="162.0" y2="1402.40" stroke="#262626" stroke-width="2"/>
<line x1="558.5" y1="1402.40" x2="553.0" y2="1402.40" stroke="#262626" stroke-width="2"/>
<line x1="156.5" y1="1312.73" x2="162.0" y2="1312.73" stroke="#262626" stroke-width="2"/>
<line x1="558.5" y1="1312.73" x2="553.0" y2="1312.73" stroke="#262626" stroke-width="2"/>
<line x1="156.5" y1="1223.07" x2="162.0" y2="1223.07" stroke="#262626" stroke-width="2"/>
<line x1="558.5" y1="1223.07" x2="553.0" y2="1223.07" stroke="#262626" stroke-width="2"/>
<line x1="156.5" y1="1133.40" x2="162.0" y2="1133.40" stroke="#262626" stroke-width="2"/>
<line x1="558.5" y1="1133.40" x2="553.0" y2="1133.40" stroke="#262626" stroke-width="2"/>
<line x1="156.5" y1="1043.73" x2="162.0" y2="1043.73" stroke="#262626" stroke-width="2"/>
<line x1="558.5" y1="1043.73" x2="553.0" y2="1043.73" stroke="#262626" stroke-width="2"/>
<line x1="156.5" y1="954.07" x2="162.0" y2="954.07" stroke="#262626" stroke-width="2"/>
<line x1="558.5" y1="954.07" x2="553.0" y2="954.07" stroke="#262626" stroke-width="2"/>
<line x1="156.5" y1="864.40" x2="162.0" y2="864.40" stroke="#262626" stroke-width="2"/>
<line x1="558.5" y1="864.40" x2="553.0" y2="864.40" stroke="#262626" stroke-width="2"/>
<line x1="178.50" y1="1402.4" x2="178.50" y2="1396.9" stroke="#262626" stroke-width="2"/>
<line x1="178.50" y1="864.4" x2="178.50" y2="869.9" stroke="#262626" stroke-width="2"/>
<line x1="290.50" y1="1402.4" x2="290.50" y2="1396.9" stroke="#262626" stroke-width="2"/>
<line x1="290.50" y1="864.4" x2="290.50" y2="869.9" stroke="#262626" stroke-width="2"/>
<line x1="401.50" y1="1402.4" x2="401.50" y2="1396.9" stroke="#262626" stroke-width="2"/>
<line x1="401.50" y1="864.4" x2="401.50" y2="869.9" stroke="#262626" stroke-width="2"/>
<line x1="513.50" y1="1402.4" x2="513.50" y2="1396.9" stroke="#262626" stroke-width="2"/>
<line x1="513.50" y1="864.4" x2="513.50" y2="869.9" stroke="#262626" stroke-width="2"/>
<g clip-path="url(#c3)" fill="none" stroke-linejoin="round">
<polyline points="173.0,860.4 173.5,1406.4 174.0,860.4 174.5,1406.4" stroke="#f00" stroke-width="2.5"/>
<polyline points="177.8,860.4 178.2,1406.4 178.8,860.4 179.2,1406.4 179.8,860.4 180.2,1406.4 180.8,860.4 181.2,1406.4" stroke="#f00" stroke-width="2.5"/>
<polyline points="188.5,860.4 189.0,1406.4 189.5,860.4 190.0,1406.4 190.5,860.4 191.0,1406.4 191.5,860.4 192.0,1406.4 192.5,860.4 193.0,1406.4 193.5,860.4 194.0,1406.4 194.5,860.4 195.0,1406.4 195.5,860.4 196.0,1406.4 196.5,860.4 197.0,1406.4 197.5,860.4 198.0,1406.4 198.5,860.4 199.0,1406.4 199.5,860.4 200.0,1406.4 200.5,860.4 201.0,1406.4 201.5,860.4 202.0,1406.4 202.5,860.4 203.0,1406.4 203.5,860.4 204.0,1406.4 204.5,860.4 205.0,1406.4 205.5,860.4" stroke="#f00" stroke-width="2.5"/>
<polyline points="209.1,860.4 209.6,1406.4 210.1,860.4 210.6,1406.4 211.1,860.4 211.6,1406.4 212.1,860.4 212.6,1406.4 213.1,860.4 213.6,1406.4 214.1,860.4 214.6,1406.4 215.1,860.4 215.6,1406.4 216.1,860.4 216.6,1406.4" stroke="#f00" stroke-width="2.5"/>
<polyline points="219.8,860.4 220.3,1406.4 220.8,860.4 221.3,1406.4 221.8,860.4 222.3,1406.4 222.8,860.4 223.3,1406.4 223.8,860.4 224.3,1406.4 224.8,860.4 225.3,1406.4 225.8,860.4 226.3,1406.4 226.8,860.4 227.3,1406.4 227.8,860.4 228.3,1406.4 228.8,860.4 229.3,1406.4 229.8,860.4 230.3,1406.4 230.8,860.4 231.3,1406.4 231.8,860.4 232.3,1406.4 232.8,860.4 233.3,1406.4 233.8,860.4 234.3,1406.4 234.8,860.4 235.3,1406.4 235.8,860.4 236.3,1406.4 236.8,860.4 237.3,1406.4 237.8,860.4 238.3,1406.4 238.8,860.4 239.3,1406.4 239.8,860.4 240.3,1406.4 240.8,860.4 241.3,1406.4 241.8,860.4 242.3,1406.4 242.8,860.4 243.3,1406.4 243.8,860.4 244.3,1406.4 244.8,860.4 245.3,1406.4 245.8,860.4 246.3,1406.4 246.8,860.4 247.3,1406.4 247.8,860.4 248.3,1406.4 248.8,860.4 249.3,1406.4 249.8,860.4 250.3,1406.4 250.8,860.4 251.3,1406.4 251.8,860.4 252.3,1406.4 252.8,860.4 253.3,1406.4 253.8,860.4 254.3,1406.4 254.8,860.4 255.3,1406.4 255.8,860.4 256.4,1406.4 256.9,860.4 257.4,1406.4 257.9,860.4 258.4,1406.4 258.9,860.4 259.4,1406.4 259.9,860.4 260.4,1406.4 260.9,860.4 261.4,1406.4 261.9,860.4 262.4,1406.4 262.9,860.4 263.4,1406.4 263.9,860.4 264.4,1406.4 264.9,860.4 265.4,1406.4 265.9,860.4 266.4,1406.4 266.9,860.4 267.4,1406.4" stroke="#f00" stroke-width="2.5"/>
<polyline points="270.6,860.4 271.1,1406.4 271.6,860.4 272.1,1406.4 272.6,860.4 273.1,1406.4 273.6,860.4 274.1,1406.4 274.6,860.4 275.1,1406.4 275.6,860.4 276.1,1406.4 276.6,860.4 277.1,1406.4 277.6,860.4 278.1,1406.4 278.6,860.4 279.1,1406.4 279.6,860.4 280.1,1406.4 280.6,860.4 281.1,1406.4 281.6,860.4 282.1,1406.4 282.6,860.4 283.1,1406.4 283.6,860.4 284.1,1406.4 284.6,860.4 285.1,1406.4 285.6,860.4 286.1,1406.4 286.6,860.4 287.1,1406.4 287.6,860.4 288.1,1406.4" stroke="#f00" stroke-width="2.5"/>
<polyline points="292.2,860.4 292.7,1406.4 293.2,860.4 293.7,1406.4 294.2,860.4" stroke="#f00" stroke-width="2.5"/>
<polyline points="298.3,860.4 298.8,1406.4 299.3,860.4 299.8,1406.4 300.3,860.4 300.8,1406.4" stroke="#f00" stroke-width="2.5"/>
<polyline points="294.5,867.3 295.0,997.5 295.5,860.5 296.0,1040.0 296.5,873.4 297.0,865.2 297.5,941.6 298.0,914.2 298.5,860.4 299.0,1020.0 299.5,888.6 300.0,985.0 300.5,874.0 301.0,982.1 301.5,861.7 302.0,923.6 302.5,870.0 303.0,1056.0 303.5,867.0 304.0,891.2 304.5,868.2 305.0,992.5 305.5,860.4 306.0,1050.0 306.5,900.7 307.0,987.1 307.5,944.1 308.0,978.4 308.5,930.8 309.0,974.8 309.5,889.3 310.0,991.2 310.5,860.6 311.0,1073.0 311.5,950.5 312.0,948.9 312.5,871.0 313.0,1004.3 313.5,861.3 314.0,981.2 314.5,902.1 315.0,1070.0 315.5,983.5 316.0,954.0 316.5,916.2 317.0,865.6 317.5,896.1 318.0,992.1 318.5,862.1 319.0,961.4 319.5,911.2 320.0,880.5 320.5,981.0 321.0,1061.0 321.5,951.7 322.0,878.2 322.5,871.0 323.0,974.2 323.5,891.0 324.0,1045.0 324.5,875.4 325.0,1004.0 325.5,861.4 326.0,1000.8 326.5,890.8 327.0,966.2 327.5,943.0 328.0,1008.9 328.5,881.5 329.0,1001.7 329.5,861.2 330.0,869.0 330.5,866.5 331.0,1165.0 331.5,914.4 332.0,949.6 332.5,956.4 333.0,1160.0 333.5,866.0 334.0,979.4 334.5,865.9 335.0,1150.0 335.5,948.6" stroke="#f00" stroke-width="2.5"/>
<polyline points="336.0,1015.1 336.6,1092.5 337.1,934.2 337.7,1064.2 338.2,1012.5 338.8,1135.8 339.3,1056.8 339.9,1182.9 340.4,987.2 341.0,1179.7 341.5,1061.5 342.1,1139.9 342.6,1048.8 343.2,1155.8 343.7,1096.6 344.3,1216.2 344.8,1131.9 345.4,1262.1 345.9,1063.3 346.5,1209.0 347.0,1081.4 347.6,1222.4 348.1,1150.7 348.7,1203.3 349.2,1111.7 349.8,1214.1 350.3,1055.9 350.9,1262.2 351.4,1119.8 352.0,1188.6 352.5,1150.4 353.1,1252.2 353.6,1070.0 354.2,1235.5 354.7,1094.2 355.3,1279.5 355.8,1124.2 356.4,1187.4 356.9,1029.7 357.5,1200.9 358.0,1130.0 358.6,1240.4 359.1,1122.7 359.7,1221.5 360.2,1160.0 360.8,1282.2 361.3,1127.9 361.9,1225.0 362.4,1131.5 363.0,1250.9 363.5,1197.6 364.1,1124.0 364.6,1227.1 365.2,1317.7 365.7,1249.1 366.3,1321.9 366.8,1258.7 367.4,1319.9 367.9,1272.5 368.5,1346.1 369.0,1267.0 369.6,1318.5 370.1,1310.3 370.7,1355.8 371.2,1289.8 371.8,1364.0 372.3,1277.1 372.9,1354.2 373.4,1290.3 374.0,1355.3 374.5,1289.3 375.1,1313.1 375.6,1269.3 376.2,1359.6 376.7,1303.2 377.3,1363.8 377.8,1296.8 378.4,1317.4 378.9,1263.3 379.5,1338.4 380.0,1310.1 380.6,1359.3 381.1,1311.6 381.7,1337.7 382.2,1270.0 382.8,1341.4 383.3,1247.1 383.9,1325.6 384.4,1124.4 385.0,1319.0 385.5,1064.3 386.1,1282.4 386.6,1107.0 387.2,1296.0 387.7,1016.3 388.3,953.0 388.8,1095.0 389.4,1257.3 389.9,1147.8 390.5,1309.7 391.0,1242.0 391.6,1320.9 392.1,1324.3 392.7,1360.2 393.2,1313.8 393.8,1336.9 394.3,1316.0 394.9,1339.8 395.4,1328.0 396.0,1355.9 396.5,1331.7 397.1,1364.8 397.6,1348.1" stroke="#f00" stroke-width="2.5"/>
<polyline points="398.0,1370.3 398.5,1370.2 399.0,1356.6 399.5,1369.0 400.0,1357.1 400.5,1378.3 401.0,1357.9 401.5,1378.6 402.0,1367.7 402.5,1376.4 403.0,1364.0 403.5,1376.0 404.0,1369.9 404.5,1373.8 405.0,1360.1 405.5,1375.4 406.0,1358.2 406.5,1373.9 407.0,1357.7 407.5,1375.3 408.0,1361.9 408.5,1385.0 409.0,1366.6 409.5,1379.5 410.0,1358.5 410.5,1371.7 411.0,1362.3 411.5,1373.5 412.0,1365.6 412.5,1371.6 413.0,1363.7 413.5,1382.5 414.0,1364.5 414.5,1373.3 415.0,1364.1 415.5,1371.1 416.0,1364.8 416.5,1381.0 417.0,1368.3 417.5,1374.7 418.0,1368.5 418.5,1384.3 419.0,1367.7 419.5,1374.3 420.0,1361.5 420.5,1383.5 421.0,1366.3 421.5,1373.1 422.0,1357.8 422.5,1370.4 423.0,1363.0 423.5,1377.9 424.0,1366.4 424.5,1381.1 425.0,1369.3 425.5,1367.3 426.0,1342.0 426.5,1375.6 427.0,1355.8 427.5,1379.4 428.0,1367.6 428.5,1369.0 429.0,1357.7 429.5,1381.8 430.0,1364.1 430.5,1371.8 431.0,1365.1 431.5,1366.4 432.0,1366.2 432.5,1371.2 433.0,1362.1 433.5,1363.0 434.0,1358.3 434.5,1369.5 435.0,1356.5 435.5,1366.4 436.0,1360.2 436.5,1364.4 437.0,1363.0 437.5,1375.8 438.0,1364.0 438.5,1363.3 439.0,1349.2 439.5,1369.2 440.0,1352.6 440.5,1363.2 441.0,1364.8 441.5,1368.1 442.0,1352.5 442.5,1366.3 443.0,1361.5 443.5,1372.2 444.0,1358.6 444.5,1369.0 445.0,1357.6 445.5,1357.8 446.0,1349.7 446.5,1356.7 447.0,1354.1 447.5,1362.5 448.0,1352.8 448.5,1373.9 449.0,1339.7 449.5,1359.7 450.0,1357.7 450.5,1375.8 451.0,1349.0 451.5,1351.2 452.0,1351.3 452.5,1354.5 453.0,1355.3 453.5,1362.0 454.0,1346.9 454.5,1350.9 455.0,1330.4 455.5,1355.9 456.0,1351.9 456.5,1351.5 457.0,1345.3 457.5,1351.9 458.0,1356.0 458.5,1377.1 459.0,1324.9 459.5,1372.6 460.0,1348.7 460.5,1372.0 461.0,1324.7 461.5,1355.8 462.0,1331.9 462.5,1316.0 463.0,1347.3 463.5,1358.1 464.0,1347.3 464.5,1364.6 465.0,1344.7 465.5,1355.1 466.0,1322.1 466.5,1357.4 467.0,1341.9 467.5,1360.7 468.0,1341.6 468.5,1347.4 469.0,1346.5 469.5,1372.2 470.0,1358.2 470.5,1379.3 471.0,1340.1 471.5,1355.6 472.0,1352.5 472.5,1374.2 473.0,1355.2 473.5,1370.9 474.0,1352.3 474.5,1368.8 475.0,1350.0 475.5,1363.2 476.0,1338.4 476.5,1360.7 477.0,1346.3 477.5,1381.2 478.0,1345.5 478.5,1379.6 479.0,1343.4 479.5,1363.7 480.0,1345.0 480.5,1368.7 481.0,1367.6 481.5,1387.0 482.0,1361.5 482.5,1369.9 483.0,1361.4 483.5,1376.6 484.0,1361.3 484.5,1371.6 485.0,1369.6 485.5,1378.4 486.0,1351.3 486.5,1369.1 487.0,1357.8 487.5,1372.3 488.0,1371.8 488.5,1379.4 489.0,1355.4 489.5,1378.7 490.0,1356.7 490.5,1383.7 491.0,1373.1 491.5,1369.5 492.0,1357.6 492.5,1376.1 493.0,1364.1 493.5,1388.0 494.0,1374.0 494.5,1384.7 495.0,1353.2 495.5,1368.1 496.0,1366.3 496.5,1366.6 497.0,1352.5 497.5,1380.1 498.0,1368.4 498.5,1378.0 499.0,1373.8 499.5,1386.4 500.0,1369.5 500.5,1376.0 501.0,1355.8 501.5,1380.0 502.0,1359.0 502.5,1370.3 503.0,1361.0 503.5,1372.7 504.0,1370.0 504.5,1367.9 505.0,1360.6 505.5,1374.5 506.0,1362.0 506.5,1375.1 507.0,1331.1 507.5,1344.7 508.0,1330.3 508.5,1360.1 509.0,1321.7 509.5,1348.6 510.0,1308.0 510.5,1359.6 511.0,1323.5 511.5,1374.5 512.0,1327.8 512.5,1361.8 513.0,1310.0 513.5,1362.8 514.0,1331.2 514.5,1344.6 515.0,1331.5 515.5,1353.9 516.0,1340.6 516.5,1351.9 517.0,1351.1 517.5,1349.5 518.0,1333.9 518.5,1359.7 519.0,1334.7 519.5,1350.0 520.0,1332.9 520.5,1359.0 521.0,1348.5 521.5,1360.2 522.0,1347.1 522.5,1355.2 523.0,1334.3 523.5,1362.6 524.0,1343.8 524.5,1359.9 525.0,1348.1 525.5,1353.6 526.0,1329.1 526.5,1371.3 527.0,1327.2 527.5,1365.5 528.0,1323.2 528.5,1359.6 529.0,1336.6 529.5,1374.3 530.0,1352.3 530.5,1374.2 531.0,1342.3 531.5,1363.6 532.0,1337.4 532.5,1335.4 533.0,1314.8 533.5,1332.5 534.0,1311.1 534.5,1320.2 535.0,1283.0 535.5,1344.2 536.0,1291.8 536.5,1305.6 537.0,1254.4 537.5,1292.5 538.0,1259.1 538.5,1307.5 539.0,1242.5 539.5,1287.1 540.0,1245.6 540.5,1245.4 541.0,1183.5 541.5,1209.9 542.0,1110.7 542.5,1129.0 543.0,981.0 543.5,1063.1 544.0,1034.1 544.5,1054.1 545.0,1058.7 545.5,1043.1 546.0,1040.6" stroke="#f00" stroke-width="2.5"/>
<polyline points="172.5,1082.4 172.9,1069.1 173.3,1160.0 173.7,1097.1 174.1,1121.3 174.5,1116.4 174.9,1146.4 175.3,1075.3 175.7,1155.7 176.1,989.0 176.5,1023.0 176.9,1103.8 177.3,1095.1 177.7,1125.3 178.1,1107.7 178.5,1080.3 178.9,1096.3 179.3,1123.9 179.7,1111.7 180.1,1205.0 180.5,1198.0 180.9,1131.0 181.3,1065.8 181.7,1114.9 182.1,1123.3 182.5,1071.1 182.9,1115.1 183.3,1077.3 183.7,1022.7 184.1,1124.5 184.5,1135.9 184.9,1135.6 185.3,1105.5 185.7,1087.9 186.1,1120.9 186.5,1128.6 186.9,1148.2 187.3,1165.0 187.7,1144.1 188.1,1089.3 188.5,1110.1 188.9,1056.7 189.3,1140.8 189.7,1135.4 190.1,990.0 190.5,1131.8 190.9,1174.7 191.3,1085.1 191.7,1125.8 192.1,1102.8 192.5,1103.9 192.9,1042.5 193.3,1082.9 193.7,1033.6 194.1,1099.1 194.5,1084.5 194.9,1117.1 195.3,1039.7 195.7,1091.0 196.1,905.0 196.5,1020.1 196.9,1175.7 197.3,1129.9 197.7,1080.5 198.1,1185.2 198.5,1164.1 198.9,1012.7 199.3,1098.7 199.7,1085.7 200.1,1112.1 200.5,1072.7 200.9,1215.0 201.3,1113.4 201.7,1011.4 202.1,1115.1 202.5,1165.9 202.9,1115.2 203.3,1155.9 203.7,1173.3 204.1,1122.1 204.5,1126.3 204.9,1230.0 205.3,1094.3 205.7,1201.4 206.1,1129.0 206.5,1133.8 206.9,1149.5 207.3,1170.4 207.7,1057.9 208.1,1071.2 208.5,1117.5 208.9,1132.5 209.3,1063.8 209.7,1057.3 210.1,1142.3 210.5,1140.4 210.9,1100.2 211.3,1100.0 211.7,1086.1 212.1,1000.0 212.5,1076.1 212.9,1117.4 213.3,1103.2 213.7,1148.8 214.1,1057.7 214.5,1042.5 214.9,1132.5 215.3,1072.3 215.7,1097.1 216.1,1110.6 216.5,1059.3 216.9,1048.2 217.3,1119.7 217.7,1000.9 218.1,1225.0 218.5,1038.0 218.9,1140.5 219.3,1120.8 219.7,1117.7 220.1,1127.9 220.5,1114.0 220.9,1053.9 221.3,1141.3 221.7,1113.7 222.1,975.0 222.5,1103.5 222.9,1098.4 223.3,1145.4 223.7,1146.1 224.1,1118.1 224.5,1061.1 224.9,1071.8 225.3,1069.0 225.7,1153.6 226.1,1129.6 226.5,1112.5 226.9,1000.0 227.3,1081.1 227.7,1142.9 228.1,1069.4 228.5,1077.2 228.9,1144.6 229.3,1136.3 229.7,1108.7 230.1,1061.3 230.5,1061.5 230.9,900.0 231.3,1126.9 231.7,1171.2 232.1,1093.7 232.5,1109.3 232.9,1075.1 233.3,1178.3 233.7,1045.7 234.1,1137.3 234.5,1176.9 234.9,1074.8 235.3,1055.5 235.7,1072.6 236.1,990.0 236.5,1126.5 236.9,1109.0 237.3,1076.5 237.7,1101.4 238.1,1172.8 238.5,1102.7 238.9,1096.9 239.3,1190.0 239.7,1077.2 240.1,1235.0 240.5,1171.1 240.9,1113.8 241.3,1036.2 241.7,1077.5 242.1,1022.2 242.5,1085.9 242.9,1124.4 243.3,1045.9 243.7,1172.5 244.1,1161.6 244.5,1143.2 244.9,985.0 245.3,1112.4 245.7,1133.3 246.1,1149.5 246.5,1162.3 246.9,1024.9 247.3,1082.7 247.7,1064.8 248.1,940.0 248.5,1119.5 248.9,1202.9 249.3,1107.3 249.7,1147.4 250.1,1115.5 250.5,1109.7 250.9,1181.0 251.3,1066.6 251.7,1138.1 252.1,1222.0 252.5,1248.3 252.9,1090.6 253.3,1073.9 253.7,1060.7 254.1,1094.7 254.5,1111.1 254.9,1111.7 255.3,1156.3 255.7,1098.4 256.1,1190.0 256.5,1044.6 256.9,1084.3 257.3,1104.6 257.7,1015.8 258.1,1115.5 258.5,1146.1 258.9,1113.8 259.3,1119.4 259.7,1110.5 260.1,1062.8 260.5,1112.6 260.9,1088.3 261.3,1114.6 261.7,1113.8 262.1,1000.0 262.5,1058.1 262.9,1108.7 263.3,1181.3 263.7,1148.7 264.1,1228.0 264.5,1081.8 264.9,1150.9 265.3,1111.0 265.7,1039.8 266.1,1093.1 266.5,1178.6 266.9,1043.1 267.3,1113.4 267.7,1080.5 268.1,905.0 268.5,1093.9 268.9,1075.2 269.3,1007.0 269.7,1101.7 270.1,1111.6 270.5,1104.8 270.9,1067.4 271.3,1085.4 271.7,1199.4 272.1,1233.0 272.5,1097.0 272.9,1060.0 273.3,1101.3 273.7,1120.3 274.1,1159.2 274.5,1119.5 274.9,1110.8 275.3,1125.3 275.7,1133.6 276.1,970.0 276.5,1110.3 276.9,1160.5 277.3,1082.5 277.7,1107.9 278.1,1074.3 278.5,1090.5 278.9,1171.2 279.3,1083.0 279.7,1132.0 280.1,1196.4 280.5,1132.6 280.9,1000.0 281.3,1080.3 281.7,1009.2 282.1,1073.1 282.5,1074.3 282.9,1149.9 283.3,1139.4 283.7,1059.3 284.1,1215.0 284.5,1083.1 284.9,1188.5 285.3,1174.6 285.7,1138.3 286.1,1087.7 286.5,1191.3 286.9,1149.2 287.3,1163.0 287.7,1133.8 288.1,1096.0 288.5,1146.6 288.9,1069.0 289.3,1147.2 289.7,1117.8 290.1,1220.0 290.5,1132.2 290.9,1106.0 291.3,1089.5 291.7,1104.0 292.1,1145.7 292.5,1052.6 292.9,1055.5 293.3,1142.9 293.7,1116.1 294.1,1022.6 294.5,1112.5 294.9,1023.4 295.3,1140.2 295.7,1119.6 296.1,1129.0 296.5,1029.0 296.9,905.0 297.3,1142.4 297.7,1031.3 298.1,1122.7 298.5,1085.8 298.9,1101.9 299.3,1053.9 299.7,1120.8" stroke="#00f" stroke-width="2.5"/>
<polyline points="300.0,994.6 300.6,1083.5 301.1,975.9 301.7,1134.4 302.2,1047.2 302.8,1073.7 303.3,1074.2 303.9,1142.5 304.4,975.4 305.0,1073.3 305.5,1064.1 306.1,1091.9 306.6,1032.8 307.2,1160.1 307.7,996.6 308.3,1190.0 308.8,1028.6 309.4,1083.6 309.9,1011.1 310.5,1184.9 311.0,1059.9 311.6,1148.9 312.1,1047.1 312.7,1108.9 313.2,1100.7 313.8,1224.0 314.3,1092.4 314.9,1161.3 315.4,1047.6 316.0,1214.0 316.5,1031.5 317.1,864.0 317.6,1047.3 318.2,1152.0 318.7,1022.7 319.3,1141.6 319.8,981.8 320.4,1186.5 320.9,1118.2 321.5,1211.0 322.0,1007.3 322.6,1118.5 323.1,1059.7 323.7,1222.0 324.2,1006.5 324.8,1158.9 325.3,1008.1 325.9,1235.9 326.4,1093.1 327.0,1179.6 327.5,1097.6 328.1,1159.3 328.6,1086.1 329.2,1252.8 329.7,1155.9 330.3,1259.9 330.8,1119.2 331.4,1190.6 331.9,1162.3 332.5,1164.7 333.0,1262.0 333.6,1236.1 334.1,1119.2 334.7,1191.8 335.2,1104.1 335.8,1167.7 336.3,1080.6 336.9,1149.1 337.4,1054.3 338.0,1134.2 338.5,1113.8 339.1,1149.3 339.6,1088.5 340.2,1170.2 340.7,1048.7 341.3,1122.7 341.8,1020.0 342.4,1178.0 342.9,1050.5 343.5,1182.2 344.0,1144.9 344.6,1221.3 345.1,1101.4 345.7,1161.9 346.2,1150.5 346.8,1200.4 347.3,1080.7 347.9,1198.9 348.4,1127.8 349.0,1236.8 349.5,1119.6 350.1,1197.8 350.6,1061.9 351.2,1175.6 351.7,1148.8 352.3,1209.0 352.8,1120.3 353.4,1221.7 353.9,1218.5 354.5,1241.3 355.0,1159.3 355.6,1267.2 356.1,1166.4 356.7,1248.9 357.2,1190.1 357.8,1278.2 358.3,1189.0 358.9,1252.7 359.4,1204.6 360.0,1234.1 360.5,1185.4 361.1,1269.3 361.6,1161.9 362.2,1266.1 362.7,1165.0 363.3,1241.1 363.8,1155.5 364.4,1285.9 364.9,1229.2 365.5,1295.4 366.0,1246.1 366.6,1284.8 367.1,1276.8 367.7,1342.9 368.2,1340.6 368.8,1375.6 369.3,1369.4 369.9,1382.0 370.4,1371.0 371.0,1373.6 371.5,1368.3 372.1,1373.3 372.6,1369.6 373.2,1382.5 373.7,1370.5 374.3,1383.0 374.8,1364.3 375.4,1380.0 375.9,1366.9 376.5,1385.9 377.0,1368.0 377.6,1375.6 378.1,1369.1 378.7,1380.9 379.2,1370.5 379.8,1374.2 380.3,1362.8 380.9,1361.1 381.4,1342.9 382.0,1351.4 382.5,1312.6 383.1,1327.6 383.6,1224.1 384.2,1298.1 384.7,1203.0 385.3,1245.8 385.8,1192.7 386.4,1271.6 386.9,1209.8 387.5,1047.0 388.0,1200.3 388.6,1248.1 389.1,1177.3 389.7,1249.1 390.2,1170.1 390.8,1283.9 391.3,1180.4 391.9,1295.3 392.4,1191.4 393.0,1240.5 393.5,1177.4 394.1,1259.5 394.6,1214.7 395.2,1256.6 395.7,1236.9 396.3,1263.6 396.8,1276.0 397.4,1357.4 397.9,1310.1" stroke="#00f" stroke-width="2.5"/>
<polyline points="398.0,1336.6 398.5,1364.1 399.0,1358.3 399.5,1368.3 400.0,1369.8 400.5,1387.5 401.0,1366.5 401.5,1374.1 402.0,1371.3 402.5,1379.0 403.0,1372.9 403.5,1388.6 404.0,1363.9 404.5,1376.9 405.0,1370.6 405.5,1377.1 406.0,1372.6 406.5,1383.2 407.0,1369.9 407.5,1380.6 408.0,1363.8 408.5,1381.1 409.0,1379.0 409.5,1382.0 410.0,1379.2 410.5,1381.9 411.0,1374.0 411.5,1375.1 412.0,1378.8 412.5,1378.8 413.0,1368.7 413.5,1384.4 414.0,1371.0 414.5,1386.0 415.0,1371.4 415.5,1380.5 416.0,1363.3 416.5,1386.5 417.0,1374.3 417.5,1378.7 418.0,1369.7 418.5,1384.3 419.0,1364.8 419.5,1375.0 420.0,1376.7 420.5,1375.1 421.0,1379.2 421.5,1380.0 422.0,1369.3 422.5,1377.2 423.0,1374.0 423.5,1377.4 424.0,1375.9 424.5,1377.6 425.0,1367.2 425.5,1374.8 426.0,1366.8 426.5,1379.6 427.0,1372.5 427.5,1389.5 428.0,1372.7 428.5,1376.3 429.0,1369.5 429.5,1376.5 430.0,1370.6 430.5,1375.8 431.0,1377.1 431.5,1378.8 432.0,1368.7 432.5,1381.0 433.0,1365.0 433.5,1379.8 434.0,1369.8 434.5,1383.5 435.0,1378.1 435.5,1388.0 436.0,1368.0 436.5,1378.0 437.0,1376.3 437.5,1382.9 438.0,1368.7 438.5,1389.5 439.0,1375.3 439.5,1377.6 440.0,1365.0 440.5,1376.1 441.0,1367.6 441.5,1387.8 442.0,1366.2 442.5,1375.6 443.0,1363.7 443.5,1380.6 444.0,1368.8 444.5,1389.8 445.0,1378.6 445.5,1389.2 446.0,1372.2 446.5,1386.0 447.0,1369.7 447.5,1381.5 448.0,1374.8 448.5,1369.9 449.0,1357.7 449.5,1380.2 450.0,1342.5 450.5,1371.6 451.0,1347.6 451.5,1364.7 452.0,1329.0 452.5,1364.5 453.0,1357.2 453.5,1361.7 454.0,1345.9 454.5,1367.4 455.0,1362.4 455.5,1375.9 456.0,1353.7 456.5,1366.9 457.0,1364.2 457.5,1367.6 458.0,1352.5 458.5,1381.3 459.0,1351.6 459.5,1366.5 460.0,1350.9 460.5,1366.6 461.0,1356.6 461.5,1362.1 462.0,1337.4 462.5,1355.2 463.0,1348.0 463.5,1363.4 464.0,1339.3 464.5,1383.8 465.0,1358.2 465.5,1378.2 466.0,1349.2 466.5,1367.4 467.0,1347.7 467.5,1365.5 468.0,1348.6 468.5,1381.1 469.0,1347.6 469.5,1363.7 470.0,1360.4 470.5,1381.2 471.0,1359.1 471.5,1361.5 472.0,1327.0 472.5,1361.3 473.0,1357.8 473.5,1371.6 474.0,1367.8 474.5,1375.8 475.0,1341.8 475.5,1368.2 476.0,1343.1 476.5,1385.5 477.0,1356.0 477.5,1368.8 478.0,1360.4 478.5,1381.2 479.0,1369.7 479.5,1374.8 480.0,1353.8 480.5,1365.8 481.0,1350.6 481.5,1377.8 482.0,1363.8 482.5,1386.9 483.0,1364.5 483.5,1382.0 484.0,1363.3 484.5,1376.8 485.0,1364.0 485.5,1372.3 486.0,1368.5 486.5,1377.5 487.0,1371.5 487.5,1388.9 488.0,1371.1 488.5,1385.1 489.0,1375.9 489.5,1372.9 490.0,1371.9 490.5,1374.8 491.0,1374.1 491.5,1371.6 492.0,1359.9 492.5,1371.2 493.0,1375.9 493.5,1369.8 494.0,1375.4 494.5,1373.3 495.0,1360.5 495.5,1371.7 496.0,1358.1 496.5,1369.1 497.0,1361.8 497.5,1385.3 498.0,1374.4 498.5,1377.6 499.0,1375.3 499.5,1385.2 500.0,1359.8 500.5,1372.6 501.0,1354.7 501.5,1380.1 502.0,1376.5 502.5,1384.6 503.0,1357.3 503.5,1372.3 504.0,1358.6 504.5,1378.8 505.0,1328.0 505.5,1387.5 506.0,1365.1 506.5,1372.0 507.0,1365.5 507.5,1361.5 508.0,1368.4 508.5,1383.5 509.0,1361.6 509.5,1365.9 510.0,1365.6 510.5,1373.3 511.0,1362.3 511.5,1379.4 512.0,1348.9 512.5,1377.4 513.0,1345.3 513.5,1373.0 514.0,1369.6 514.5,1368.3 515.0,1358.3 515.5,1379.6 516.0,1341.8 516.5,1375.2 517.0,1354.7 517.5,1360.4 518.0,1356.1 518.5,1375.0 519.0,1356.0 519.5,1384.5 520.0,1337.3 520.5,1381.4 521.0,1356.0 521.5,1367.4 522.0,1346.7 522.5,1381.5 523.0,1353.0 523.5,1372.5 524.0,1340.0 524.5,1364.3 525.0,1358.9 525.5,1379.4 526.0,1360.2 526.5,1368.1 527.0,1362.1 527.5,1375.8 528.0,1366.0 528.5,1374.8 529.0,1369.9 529.5,1383.8 530.0,1362.0 530.5,1371.7 531.0,1369.2 531.5,1371.7 532.0,1359.3 532.5,1363.1 533.0,1359.4 533.5,1356.0 534.0,1335.5 534.5,1359.9 535.0,1329.8 535.5,1344.7 536.0,1306.8 536.5,1344.5 537.0,1318.6 537.5,1310.5 538.0,1294.6 538.5,1331.3 539.0,1284.2 539.5,1284.9 540.0,1245.9 540.5,1267.1 541.0,1250.3 541.5,1277.2 542.0,1215.4 542.5,1230.8 543.0,1200.8 543.5,1200.4 544.0,1161.3 544.5,1196.2 545.0,1136.9 545.5,1151.2 546.0,1129.2" stroke="#00f" stroke-width="2.5"/>
<polyline points="546.7,860.4 547.2,1116.0 547.7,860.4 548.2,1116.0 548.7,860.4 549.2,1116.0" stroke="#00f" stroke-width="2.5"/>
<polyline points="549.8,860.4 550.3,1406.4 550.8,860.4 551.3,1406.4 551.8,860.4 552.3,1406.4 552.8,860.4 553.3,1406.4 553.8,860.4 554.3,1406.4 554.8,860.4 555.3,1406.4 555.8,860.4 556.3,1406.4 556.8,860.4 557.3,1406.4 557.8,860.4 558.3,1406.4 558.8,860.4 559.3,1406.4 559.8,860.4" stroke="#00f" stroke-width="2.5"/>
</g>
<line x1="156.50" y1="1402.4" x2="156.50" y2="864.4" stroke="#000" stroke-width="2.2" stroke-dasharray="2.2 6.133" stroke-dashoffset="0.1"/>
<line x1="178.50" y1="1402.4" x2="178.50" y2="864.4" stroke="#000" stroke-width="2.2" stroke-dasharray="2.2 6.133" stroke-dashoffset="0.1"/>
<line x1="200.50" y1="1402.4" x2="200.50" y2="864.4" stroke="#000" stroke-width="2.2" stroke-dasharray="2.2 6.133" stroke-dashoffset="0.1"/>
<line x1="223.50" y1="1402.4" x2="223.50" y2="864.4" stroke="#000" stroke-width="2.2" stroke-dasharray="2.2 6.133" stroke-dashoffset="0.1"/>
<line x1="245.50" y1="1402.4" x2="245.50" y2="864.4" stroke="#000" stroke-width="2.2" stroke-dasharray="2.2 6.133" stroke-dashoffset="0.1"/>
<line x1="267.50" y1="1402.4" x2="267.50" y2="864.4" stroke="#000" stroke-width="2.2" stroke-dasharray="2.2 6.133" stroke-dashoffset="0.1"/>
<line x1="290.50" y1="1402.4" x2="290.50" y2="864.4" stroke="#000" stroke-width="2.2" stroke-dasharray="2.2 6.133" stroke-dashoffset="0.1"/>
<line x1="312.50" y1="1402.4" x2="312.50" y2="864.4" stroke="#000" stroke-width="2.2" stroke-dasharray="2.2 6.133" stroke-dashoffset="0.1"/>
<line x1="334.50" y1="1402.4" x2="334.50" y2="864.4" stroke="#000" stroke-width="2.2" stroke-dasharray="2.2 6.133" stroke-dashoffset="0.1"/>
<line x1="357.50" y1="1402.4" x2="357.50" y2="864.4" stroke="#000" stroke-width="2.2" stroke-dasharray="2.2 6.133" stroke-dashoffset="0.1"/>
<line x1="379.50" y1="1402.4" x2="379.50" y2="864.4" stroke="#000" stroke-width="2.2" stroke-dasharray="2.2 6.133" stroke-dashoffset="0.1"/>
<line x1="401.50" y1="1402.4" x2="401.50" y2="864.4" stroke="#000" stroke-width="2.2" stroke-dasharray="2.2 6.133" stroke-dashoffset="0.1"/>
<line x1="424.50" y1="1402.4" x2="424.50" y2="864.4" stroke="#000" stroke-width="2.2" stroke-dasharray="2.2 6.133" stroke-dashoffset="0.1"/>
<line x1="446.50" y1="1402.4" x2="446.50" y2="864.4" stroke="#000" stroke-width="2.2" stroke-dasharray="2.2 6.133" stroke-dashoffset="0.1"/>
<line x1="468.50" y1="1402.4" x2="468.50" y2="864.4" stroke="#000" stroke-width="2.2" stroke-dasharray="2.2 6.133" stroke-dashoffset="0.1"/>
<line x1="491.50" y1="1402.4" x2="491.50" y2="864.4" stroke="#000" stroke-width="2.2" stroke-dasharray="2.2 6.133" stroke-dashoffset="0.1"/>
<line x1="513.50" y1="1402.4" x2="513.50" y2="864.4" stroke="#000" stroke-width="2.2" stroke-dasharray="2.2 6.133" stroke-dashoffset="0.1"/>
<line x1="535.50" y1="1402.4" x2="535.50" y2="864.4" stroke="#000" stroke-width="2.2" stroke-dasharray="2.2 6.133" stroke-dashoffset="0.1"/>
<line x1="558.50" y1="1402.4" x2="558.50" y2="864.4" stroke="#000" stroke-width="2.2" stroke-dasharray="2.2 6.133" stroke-dashoffset="0.1"/>
<text x="146.30" y="1412.30" text-anchor="end">0</text>
<text x="146.30" y="1322.63" text-anchor="end">0.5</text>
<text x="146.30" y="1232.97" text-anchor="end">1</text>
<text x="146.30" y="1143.30" text-anchor="end">1.5</text>
<text x="146.30" y="1053.63" text-anchor="end">2</text>
<text x="146.30" y="963.97" text-anchor="end">2.5</text>
<text x="146.30" y="874.30" text-anchor="end">3</text>
<text x="178.20" y="1436.10" text-anchor="middle">19:55</text>
<text x="290.20" y="1436.10" text-anchor="middle">20:00</text>
<text x="401.20" y="1436.10" text-anchor="middle">20:05</text>
<text x="513.20" y="1436.10" text-anchor="middle">20:10</text>
<text x="357.50" y="848.90" text-anchor="middle" font-size="27" font-weight="bold" fill="#000">20140702 195447 S4 red(150MHz)</text>
<text x="356.30" y="1471.80" text-anchor="middle" font-size="27">UT, from 19:54 to 20:12 UT</text>
<text transform="translate(90.80,1133.40) rotate(-90)" x="0" y="0" text-anchor="middle" font-size="27">S4</text>
<line x1="685.5" y1="1312.73" x2="1085.5" y2="1312.73" stroke="#e2e2e2" stroke-width="2"/>
<line x1="685.5" y1="1223.07" x2="1085.5" y2="1223.07" stroke="#e2e2e2" stroke-width="2"/>
<line x1="685.5" y1="1133.40" x2="1085.5" y2="1133.40" stroke="#e2e2e2" stroke-width="2"/>
<line x1="685.5" y1="1043.73" x2="1085.5" y2="1043.73" stroke="#e2e2e2" stroke-width="2"/>
<line x1="685.5" y1="954.07" x2="1085.5" y2="954.07" stroke="#e2e2e2" stroke-width="2"/>
<line x1="707.50" y1="864.4" x2="707.50" y2="1402.4" stroke="#e2e2e2" stroke-width="2"/>
<line x1="818.50" y1="864.4" x2="818.50" y2="1402.4" stroke="#e2e2e2" stroke-width="2"/>
<line x1="929.50" y1="864.4" x2="929.50" y2="1402.4" stroke="#e2e2e2" stroke-width="2"/>
<line x1="1040.50" y1="864.4" x2="1040.50" y2="1402.4" stroke="#e2e2e2" stroke-width="2"/>
<rect x="685.5" y="864.4" width="400.0" height="538.0000000000001" fill="none" stroke="#262626" stroke-width="2"/>
<line x1="685.5" y1="1402.40" x2="691.0" y2="1402.40" stroke="#262626" stroke-width="2"/>
<line x1="1085.5" y1="1402.40" x2="1080.0" y2="1402.40" stroke="#262626" stroke-width="2"/>
<line x1="685.5" y1="1312.73" x2="691.0" y2="1312.73" stroke="#262626" stroke-width="2"/>
<line x1="1085.5" y1="1312.73" x2="1080.0" y2="1312.73" stroke="#262626" stroke-width="2"/>
<line x1="685.5" y1="1223.07" x2="691.0" y2="1223.07" stroke="#262626" stroke-width="2"/>
<line x1="1085.5" y1="1223.07" x2="1080.0" y2="1223.07" stroke="#262626" stroke-width="2"/>
<line x1="685.5" y1="1133.40" x2="691.0" y2="1133.40" stroke="#262626" stroke-width="2"/>
<line x1="1085.5" y1="1133.40" x2="1080.0" y2="1133.40" stroke="#262626" stroke-width="2"/>
<line x1="685.5" y1="1043.73" x2="691.0" y2="1043.73" stroke="#262626" stroke-width="2"/>
<line x1="1085.5" y1="1043.73" x2="1080.0" y2="1043.73" stroke="#262626" stroke-width="2"/>
<line x1="685.5" y1="954.07" x2="691.0" y2="954.07" stroke="#262626" stroke-width="2"/>
<line x1="1085.5" y1="954.07" x2="1080.0" y2="954.07" stroke="#262626" stroke-width="2"/>
<line x1="685.5" y1="864.40" x2="691.0" y2="864.40" stroke="#262626" stroke-width="2"/>
<line x1="1085.5" y1="864.40" x2="1080.0" y2="864.40" stroke="#262626" stroke-width="2"/>
<line x1="707.50" y1="1402.4" x2="707.50" y2="1396.9" stroke="#262626" stroke-width="2"/>
<line x1="707.50" y1="864.4" x2="707.50" y2="869.9" stroke="#262626" stroke-width="2"/>
<line x1="818.50" y1="1402.4" x2="818.50" y2="1396.9" stroke="#262626" stroke-width="2"/>
<line x1="818.50" y1="864.4" x2="818.50" y2="869.9" stroke="#262626" stroke-width="2"/>
<line x1="929.50" y1="1402.4" x2="929.50" y2="1396.9" stroke="#262626" stroke-width="2"/>
<line x1="929.50" y1="864.4" x2="929.50" y2="869.9" stroke="#262626" stroke-width="2"/>
<line x1="1040.50" y1="1402.4" x2="1040.50" y2="1396.9" stroke="#262626" stroke-width="2"/>
<line x1="1040.50" y1="864.4" x2="1040.50" y2="869.9" stroke="#262626" stroke-width="2"/>
<g clip-path="url(#c4)" fill="none" stroke-linejoin="round">
<polyline points="701.0,1400.4 701.7,1402.5 702.4,1401.1 703.1,1402.9 703.8,1400.5 704.5,1403.3 705.2,1400.9 705.9,1402.7 706.6,1400.3 707.3,1402.9 708.0,1401.5 708.7,1402.4 709.4,1401.8 710.1,1402.0 710.8,1401.2 711.5,1403.0 712.2,1401.6 712.9,1402.7 713.6,1400.3 714.3,1401.9 715.0,1401.7 715.7,1402.8 716.4,1401.0 717.1,1402.9 717.8,1401.4 718.5,1401.8 719.2,1401.2 719.9,1402.4 720.6,1400.6 721.3,1402.9 722.0,1400.9 722.7,1402.4 723.4,1401.4 724.1,1403.2 724.8,1401.1 725.5,1401.9 726.2,1400.6 726.9,1402.7 727.6,1400.4 728.3,1402.1 729.0,1400.5 729.7,1402.3 730.4,1400.7 731.1,1401.9 731.8,1401.6 732.5,1402.5 733.2,1401.3 733.9,1402.0 734.6,1400.6 735.3,1403.0 736.0,1400.4 736.7,1402.5 737.4,1401.0 738.1,1403.0 738.8,1401.7 739.5,1401.9 740.2,1401.8 740.9,1402.0 741.6,1401.0 742.3,1402.8 743.0,1401.0 743.7,1403.1 744.4,1400.4 745.1,1402.8 745.8,1401.1 746.5,1403.1 747.2,1401.8 747.9,1403.2 748.6,1400.7 749.3,1402.2 750.0,1400.6 750.7,1403.1 751.4,1400.7 752.1,1403.1 752.8,1401.1 753.5,1402.6 754.2,1401.3 754.9,1401.9 755.6,1401.2 756.3,1402.4 757.0,1401.4 757.7,1402.8 758.4,1400.8 759.1,1402.2 759.8,1400.8 760.5,1402.7 761.2,1400.9 761.9,1402.5 762.6,1400.8 763.3,1401.9 764.0,1401.1 764.7,1402.6 765.4,1400.5 766.1,1402.4 766.8,1401.0 767.5,1402.1 768.2,1400.6 768.9,1403.1 769.6,1400.3 770.3,1401.8 771.0,1401.6 771.7,1402.0 772.4,1400.6 773.1,1403.2 773.8,1401.7 774.5,1402.0 775.2,1401.4 775.9,1402.5 776.6,1401.3 777.3,1402.2 778.0,1401.1 778.7,1402.2 779.4,1400.6 780.1,1402.5 780.8,1401.4 781.5,1403.1 782.2,1400.7 782.9,1403.2 783.6,1401.5 784.3,1402.9 785.0,1401.0 785.7,1402.2 786.4,1400.4 787.1,1403.2 787.8,1401.3 788.5,1402.2 789.2,1401.1 789.9,1403.3 790.6,1401.0 791.3,1401.8 792.0,1401.1 792.7,1403.2 793.4,1401.1 794.1,1402.5 794.8,1401.3 795.5,1402.4 796.2,1401.2 796.9,1402.4 797.6,1400.7 798.3,1402.8 799.0,1400.8 799.7,1402.9 800.4,1401.2 801.1,1401.9 801.8,1401.1 802.5,1402.9 803.2,1401.3 803.9,1402.5 804.6,1400.3 805.3,1403.0 806.0,1400.5 806.7,1402.1 807.4,1400.8 808.1,1401.9 808.8,1400.7 809.5,1402.6 810.2,1401.0 810.9,1402.3 811.6,1400.7 812.3,1402.9 813.0,1401.5 813.7,1403.0 814.4,1401.4 815.1,1402.9 815.8,1400.3 816.5,1402.7 817.2,1400.7 817.9,1402.6 818.6,1400.6 819.3,1402.4 820.0,1401.1 820.7,1402.1 821.4,1401.4 822.1,1402.3 822.8,1401.2 823.5,1403.0 824.2,1401.7 824.9,1402.5 825.6,1400.7 826.3,1402.1 827.0,1401.2 827.7,1402.4 828.4,1401.0 829.1,1402.8 829.8,1401.5 830.5,1402.1 831.2,1401.8 831.9,1402.3 832.6,1400.6 833.3,1401.9 834.0,1401.0 834.7,1403.0 835.4,1401.1 836.1,1402.2 836.8,1401.6 837.5,1402.9 838.2,1400.9 838.9,1402.7 839.6,1401.2 840.3,1402.7 841.0,1400.7 841.7,1402.8 842.4,1400.9 843.1,1401.8 843.8,1401.1 844.5,1402.5 845.2,1401.3 845.9,1402.8 846.6,1401.4 847.3,1402.8 848.0,1400.6 848.7,1403.0 849.4,1400.6 850.1,1403.1 850.8,1401.1 851.5,1402.7 852.2,1401.1 852.9,1403.0 853.6,1400.9 854.3,1402.3 855.0,1400.9 855.7,1402.2 856.4,1401.7 857.1,1403.1 857.8,1400.3 858.5,1402.5 859.2,1400.8 859.9,1402.4 860.6,1400.9 861.3,1402.1 862.0,1400.9 862.7,1402.8 863.4,1401.0 864.1,1403.1 864.8,1400.8 865.5,1402.9 866.2,1401.1 866.9,1403.1 867.6,1400.4 868.3,1402.3 869.0,1401.2 869.7,1402.8 870.4,1401.1 871.1,1402.8 871.8,1401.3 872.5,1401.9 873.2,1401.8 873.9,1403.1 874.6,1400.5 875.3,1402.9 876.0,1401.6 876.7,1401.9 877.4,1401.7 878.1,1401.8 878.8,1400.6 879.5,1402.0 880.2,1400.7 880.9,1402.3 881.6,1401.2 882.3,1403.2 883.0,1401.7 883.7,1402.2 884.4,1400.8 885.1,1401.9 885.8,1400.9 886.5,1403.3 887.2,1401.5 887.9,1402.5 888.6,1401.6 889.3,1403.1 890.0,1401.6 890.7,1402.9 891.4,1400.9" stroke="#f00" stroke-width="2.5"/>
<polyline points="892.0,1333.7 892.5,1323.0 892.9,1303.1 893.4,1401.8 893.8,1345.9 894.3,1396.3 894.7,1284.1 895.2,1399.7 895.6,1376.3 896.1,1346.1 896.5,1249.3 897.0,1327.6 897.4,1201.5 897.9,1297.3 898.3,1197.5 898.8,1399.9 899.2,1181.0 899.7,1369.9 900.1,1291.8 900.6,1229.0 901.0,1241.5 901.5,1318.2 901.9,1237.6 902.4,1390.6 902.8,1332.4 903.3,1349.1 903.7,1275.9 904.2,1390.0 904.6,1266.2 905.1,1386.5 905.5,1264.8 906.0,1400.9 906.4,1275.1 906.9,1396.4 907.3,1348.3 907.8,1375.8 908.2,1261.7 908.7,1370.6 909.1,1259.7 909.6,1388.8 910.0,1305.6 910.5,1393.3 910.9,1256.0 911.4,1401.9 911.8,1344.7 912.3,1290.9 912.7,1286.8 913.2,1395.0 913.6,1393.5 914.1,1394.9 914.5,1277.0 915.0,1362.4 915.4,1274.6 915.9,1394.5 916.3,1374.9 916.8,1361.4 917.2,1354.2 917.7,1301.9 918.1,1381.3 918.6,1384.4 919.0,1286.8 919.5,1379.8 919.9,1298.1 920.4,1353.5 920.8,1329.1 921.3,1363.3 921.7,1297.2 922.2,1325.3 922.6,1317.9 923.1,1401.2 923.5,1384.3 924.0,1391.4 924.4,1363.4 924.9,1393.6" stroke="#f00" stroke-width="2.5"/>
<polyline points="924.0,1389.9 924.5,1369.7 924.9,1373.5 925.4,1381.7 925.8,1353.2 926.3,1390.8 926.7,1351.4 927.2,1340.0 927.6,1353.8 928.1,1391.6 928.5,1357.3 929.0,1366.2 929.4,1366.5 929.9,1391.7 930.3,1358.8 930.8,1386.9 931.2,1358.4 931.7,1378.5 932.1,1358.0 932.6,1360.7 933.0,1372.0 933.5,1385.8 933.9,1361.6 934.4,1389.7 934.8,1383.4 935.3,1372.7 935.7,1366.4 936.2,1369.7 936.6,1358.3 937.1,1350.0 937.5,1358.6 938.0,1365.1 938.4,1361.1 938.9,1362.8 939.3,1363.0 939.8,1371.0 940.2,1358.1 940.7,1387.6 941.1,1358.0 941.6,1385.1 942.0,1358.3 942.5,1372.6 942.9,1369.9 943.4,1391.3 943.8,1380.7 944.3,1392.0 944.7,1368.3 945.2,1359.0 945.6,1359.0 946.1,1391.7 946.5,1359.1 947.0,1380.7 947.4,1391.7 947.9,1392.0 948.3,1358.6 948.8,1392.0 949.2,1361.1 949.7,1389.8 950.1,1352.0 950.6,1391.7 951.0,1381.2 951.5,1375.4 951.9,1358.0 952.4,1385.7 952.8,1361.6 953.3,1375.1 953.7,1359.2 954.2,1391.7 954.6,1358.9 955.1,1391.9 955.5,1377.6 956.0,1392.5 956.4,1388.4 956.9,1390.2 957.3,1364.1 957.8,1387.0 958.2,1373.7 958.7,1388.2 959.1,1392.2 959.6,1393.0 960.0,1372.6 960.5,1368.8 960.9,1372.4 961.4,1394.7 961.8,1371.5 962.3,1394.1 962.7,1370.8 963.2,1394.8 963.6,1371.6 964.1,1386.2 964.5,1372.6 965.0,1395.7 965.4,1373.5 965.9,1395.9 966.3,1378.6 966.8,1394.7 967.2,1376.1 967.7,1393.5 968.1,1378.0 968.6,1390.2 969.0,1388.1 969.5,1393.9 969.9,1378.3 970.4,1397.1 970.8,1384.7 971.3,1380.3 971.7,1395.2 972.2,1396.4 972.6,1387.3 973.1,1393.8 973.5,1382.8 974.0,1388.6 974.4,1385.7 974.9,1397.9" stroke="#f00" stroke-width="2.5"/>
<polyline points="975.0,1390.1 975.5,1393.9 976.0,1387.1 976.5,1386.8 977.0,1394.9 977.5,1393.8 978.0,1385.1 978.5,1395.8 979.0,1392.4 979.5,1388.9 980.0,1395.4 980.5,1389.9 981.0,1394.6 981.5,1395.8 982.0,1393.0 982.5,1398.6 983.0,1388.1 983.5,1396.2 984.0,1389.8 984.5,1396.0 985.0,1398.0 985.5,1400.5 986.0,1393.5 986.5,1398.5 987.0,1393.5 987.5,1398.0 988.0,1394.6 988.5,1401.0 989.0,1394.2 989.5,1394.2 990.0,1391.9 990.5,1399.4 991.0,1388.2 991.5,1395.2 992.0,1390.4 992.5,1401.2 993.0,1397.5 993.5,1400.2 994.0,1394.0 994.5,1397.5 995.0,1393.3 995.5,1391.9 996.0,1398.6 996.5,1391.5 997.0,1397.6 997.5,1398.7 998.0,1390.2 998.5,1396.1 999.0,1391.3 999.5,1391.0 1000.0,1392.2 1000.5,1392.4 1001.0,1398.0 1001.5,1400.3 1002.0,1395.2 1002.5,1396.6 1003.0,1388.1 1003.5,1393.4 1004.0,1391.2 1004.5,1397.0 1005.0,1398.5 1005.5,1401.2 1006.0,1389.2 1006.5,1396.2 1007.0,1389.7 1007.5,1401.3 1008.0,1397.6 1008.5,1398.7 1009.0,1397.9 1009.5,1400.6 1010.0,1397.3 1010.5,1399.2 1011.0,1391.4 1011.5,1396.1 1012.0,1395.1 1012.5,1395.1 1013.0,1391.8 1013.5,1395.4 1014.0,1388.4 1014.5,1399.9 1015.0,1398.5 1015.5,1401.0 1016.0,1395.3 1016.5,1394.0 1017.0,1393.6 1017.5,1396.2 1018.0,1389.9 1018.5,1399.4 1019.0,1398.6 1019.5,1396.3 1020.0,1391.8 1020.5,1392.0 1021.0,1388.8 1021.5,1398.9 1022.0,1388.9 1022.5,1391.9 1023.0,1398.9 1023.5,1395.2 1024.0,1388.1 1024.5,1399.3 1025.0,1396.8 1025.5,1398.2 1026.0,1396.1 1026.5,1395.7 1027.0,1395.4 1027.5,1393.2 1028.0,1392.9 1028.5,1392.0 1029.0,1398.2 1029.5,1395.4 1030.0,1391.7 1030.5,1400.3 1031.0,1400.1 1031.5,1399.7 1032.0,1399.4 1032.5,1398.9 1033.0,1400.6 1033.5,1401.5 1034.0,1399.9 1034.5,1401.2 1035.0,1399.0 1035.5,1400.1 1036.0,1399.5 1036.5,1399.9 1037.0,1400.3 1037.5,1401.5 1038.0,1400.6 1038.5,1401.2 1039.0,1398.0 1039.5,1401.7 1040.0,1398.7 1040.5,1399.3 1041.0,1399.5 1041.5,1401.0 1042.0,1399.9 1042.5,1402.0 1043.0,1398.0 1043.5,1399.5 1044.0,1399.4 1044.5,1399.1 1045.0,1398.7 1045.5,1400.2 1046.0,1398.9 1046.5,1401.6 1047.0,1398.2 1047.5,1399.6 1048.0,1399.7 1048.5,1401.9 1049.0,1399.8 1049.5,1400.4 1050.0,1399.7 1050.5,1401.8 1051.0,1398.9 1051.5,1401.9 1052.0,1399.7 1052.5,1399.6 1053.0,1399.1 1053.5,1400.4 1054.0,1398.1 1054.5,1400.1 1055.0,1398.7 1055.5,1400.2 1056.0,1400.5 1056.5,1400.3 1057.0,1400.3 1057.5,1401.4 1058.0,1398.1 1058.5,1400.7 1059.0,1398.5 1059.5,1401.3 1060.0,1398.8 1060.5,1401.2 1061.0,1398.3 1061.5,1400.0 1062.0,1399.6 1062.5,1400.2 1063.0,1399.1 1063.5,1399.5 1064.0,1398.4 1064.5,1402.0 1065.0,1400.4 1065.5,1399.2 1066.0,1399.2 1066.5,1401.8 1067.0,1400.0 1067.5,1399.7 1068.0,1398.6 1068.5,1401.8 1069.0,1400.9 1069.5,1401.4 1070.0,1401.1 1070.5,1399.4 1071.0,1398.9 1071.5,1400.7 1072.0,1398.6 1072.5,1400.6 1073.0,1399.8 1073.5,1399.7 1074.0,1398.9 1074.5,1400.1 1075.0,1399.1 1075.5,1401.3 1076.0,1399.8 1076.5,1402.2 1077.0,1400.4 1077.5,1401.9 1078.0,1399.3 1078.5,1401.1 1079.0,1400.4 1079.5,1401.6 1080.0,1399.5 1080.5,1402.3 1081.0,1400.0 1081.5,1399.9 1082.0,1400.3 1082.5,1402.2 1083.0,1400.2 1083.5,1401.4 1084.0,1400.2 1084.5,1401.4 1085.0,1399.8 1085.5,1400.1" stroke="#f00" stroke-width="2.5"/>
<polyline points="701.0,1400.6 701.7,1403.0 702.4,1401.4 703.1,1402.9 703.8,1400.5 704.5,1402.1 705.2,1401.6 705.9,1402.4 706.6,1401.7 707.3,1403.0 708.0,1401.3 708.7,1403.2 709.4,1401.4 710.1,1402.9 710.8,1400.9 711.5,1403.3 712.2,1400.9 712.9,1402.5 713.6,1401.7 714.3,1402.9 715.0,1401.3 715.7,1403.5 716.4,1402.0 717.1,1402.9 717.8,1402.0 718.5,1403.3 719.2,1401.1 719.9,1402.3 720.6,1400.5 721.3,1402.4 722.0,1401.5 722.7,1403.0 723.4,1401.0 724.1,1403.0 724.8,1400.8 725.5,1403.0 726.2,1401.9 726.9,1403.1 727.6,1401.6 728.3,1403.4 729.0,1402.0 729.7,1403.0 730.4,1400.4 731.1,1402.6 731.8,1400.8 732.5,1403.1 733.2,1400.5 733.9,1402.7 734.6,1400.7 735.3,1402.8 736.0,1401.1 736.7,1403.3 737.4,1401.2 738.1,1403.4 738.8,1401.1 739.5,1403.4 740.2,1401.3 740.9,1402.4 741.6,1401.3 742.3,1402.5 743.0,1401.3 743.7,1402.6 744.4,1402.0 745.1,1402.9 745.8,1400.5 746.5,1402.8 747.2,1401.0 747.9,1403.6 748.6,1401.7 749.3,1402.4 750.0,1401.9 750.7,1403.7 751.4,1401.7 752.1,1403.2 752.8,1401.7 753.5,1402.3 754.2,1400.8 754.9,1402.6 755.6,1401.5 756.3,1402.2 757.0,1400.9 757.7,1403.5 758.4,1401.2 759.1,1402.6 759.8,1401.7 760.5,1403.7 761.2,1400.8 761.9,1402.7 762.6,1400.6 763.3,1402.5 764.0,1401.5 764.7,1403.5 765.4,1401.1 766.1,1403.4 766.8,1401.2 767.5,1403.1 768.2,1401.6 768.9,1402.6 769.6,1401.1 770.3,1402.7 771.0,1400.7 771.7,1403.8 772.4,1400.5 773.1,1402.5 773.8,1401.5 774.5,1403.3 775.2,1401.4 775.9,1403.8 776.6,1401.0 777.3,1402.1 778.0,1401.2 778.7,1403.2 779.4,1401.0 780.1,1402.4 780.8,1400.8 781.5,1402.1 782.2,1401.6 782.9,1403.4 783.6,1400.5 784.3,1402.4 785.0,1401.5 785.7,1402.7 786.4,1401.7 787.1,1403.7 787.8,1400.9 788.5,1402.3 789.2,1401.1 789.9,1403.7 790.6,1401.7 791.3,1403.3 792.0,1401.7 792.7,1403.5 793.4,1400.5 794.1,1403.3 794.8,1400.7 795.5,1402.5 796.2,1402.0 796.9,1402.2 797.6,1401.8 798.3,1402.5 799.0,1400.4 799.7,1403.2 800.4,1401.4 801.1,1403.4 801.8,1401.8 802.5,1402.6 803.2,1401.4 803.9,1403.4 804.6,1401.3 805.3,1403.7 806.0,1400.3 806.7,1402.2 807.4,1401.4 808.1,1403.0 808.8,1401.3 809.5,1402.7 810.2,1400.7 810.9,1403.6 811.6,1400.7 812.3,1403.4 813.0,1400.8 813.7,1402.6 814.4,1401.5 815.1,1402.2 815.8,1400.4 816.5,1403.6 817.2,1400.5 817.9,1402.4 818.6,1401.9 819.3,1402.7 820.0,1400.4 820.7,1402.5 821.4,1402.0 822.1,1402.5 822.8,1400.5 823.5,1402.5 824.2,1401.9 824.9,1402.1 825.6,1400.8 826.3,1402.8 827.0,1401.8 827.7,1402.8 828.4,1401.0 829.1,1403.0 829.8,1400.8 830.5,1403.3 831.2,1400.8 831.9,1403.2 832.6,1401.3 833.3,1402.5 834.0,1401.4 834.7,1402.7 835.4,1400.6 836.1,1402.1 836.8,1400.6 837.5,1403.6 838.2,1401.6 838.9,1402.8 839.6,1401.8 840.3,1403.4 841.0,1401.2 841.7,1402.6 842.4,1400.5 843.1,1403.3 843.8,1401.2 844.5,1402.7 845.2,1402.0 845.9,1403.0 846.6,1401.9 847.3,1402.3 848.0,1401.2 848.7,1402.7 849.4,1401.0 850.1,1402.5 850.8,1401.1 851.5,1403.2 852.2,1401.5 852.9,1403.3 853.6,1401.5 854.3,1403.7 855.0,1400.9 855.7,1403.6 856.4,1401.7 857.1,1403.3 857.8,1401.8 858.5,1402.8 859.2,1400.7 859.9,1403.1 860.6,1400.7 861.3,1402.1 862.0,1401.0 862.7,1403.1 863.4,1400.6 864.1,1403.3 864.8,1401.0 865.5,1402.6 866.2,1400.7 866.9,1402.3 867.6,1400.9 868.3,1403.2 869.0,1400.9 869.7,1402.1 870.4,1401.6 871.1,1402.7 871.8,1401.4 872.5,1403.2 873.2,1401.4 873.9,1402.6 874.6,1402.0 875.3,1403.4 876.0,1400.8 876.7,1402.7 877.4,1401.0 878.1,1402.7 878.8,1400.9 879.5,1403.0 880.2,1402.0 880.9,1403.0 881.6,1401.2 882.3,1403.7 883.0,1401.5 883.7,1402.7 884.4,1401.4 885.1,1402.2 885.8,1396.0 886.5,1403.5 887.2,1402.0 887.9,1402.9 888.6,1400.5 889.3,1407.0 890.0,1401.2 890.7,1395.0 891.4,1401.7 892.1,1403.2" stroke="#00f" stroke-width="2.5"/>
<polyline points="892.5,1306.5 892.9,1395.8 893.3,1128.3 893.7,1370.5 894.1,1123.0 894.5,1144.5 894.9,1131.2 895.3,1040.5 895.7,1221.1 896.1,1238.1 896.5,1011.5 896.9,1239.9 897.3,1090.2 897.7,1224.1 898.1,1013.4 898.5,1103.9 898.9,1109.5 899.3,1245.5 899.7,958.0 900.1,1196.0 900.5,958.0 900.9,1035.0 901.3,975.2 901.7,1243.2 902.1,1027.3 902.5,1254.9 902.9,1063.7 903.3,1259.3 903.7,1160.3 904.1,1171.6 904.5,1078.8 904.9,1268.8 905.3,1089.5 905.7,1100.7 906.1,1122.2 906.5,1227.3 906.9,1116.2 907.3,1372.8 907.7,1108.3 908.1,1208.5 908.5,1143.4 908.9,1402.0 909.3,1353.2 909.7,1400.8" stroke="#00f" stroke-width="2.5"/>
<polyline points="910.0,1391.4 910.6,1400.2 911.2,1391.8 911.8,1400.8 912.4,1394.6 913.0,1401.6 913.6,1393.6 914.2,1402.3 914.8,1393.9 915.4,1399.5 916.0,1390.5 916.6,1400.5 917.2,1392.8 917.8,1402.2 918.4,1392.0 919.0,1400.7 919.6,1393.3 920.2,1400.8 920.8,1395.5 921.4,1399.3" stroke="#00f" stroke-width="2.5"/>
<polyline points="922.0,1400.8 922.5,1366.1 922.9,1338.7 923.4,1367.3 923.8,1267.3 924.3,1275.1 924.7,1239.1 925.2,1354.8 925.6,1250.8 926.1,1335.4 926.5,1345.2 927.0,1340.3 927.4,1261.2 927.9,1351.0 928.3,1256.3 928.8,1352.8 929.2,1260.9 929.7,1304.9 930.1,1294.4 930.6,1354.9 931.0,1246.9 931.5,1278.5 931.9,1313.3 932.4,1362.6 932.8,1279.6 933.3,1292.3 933.7,1239.0 934.2,1334.2 934.6,1220.6 935.1,1309.6 935.5,1222.8 936.0,1366.5 936.4,1211.0 936.9,1291.6 937.3,1212.2 937.8,1360.1 938.2,1236.9 938.7,1329.8 939.1,1284.1 939.6,1353.7 940.0,1276.0 940.5,1359.7 940.9,1215.8 941.4,1365.8 941.8,1226.5 942.3,1326.4 942.7,1233.9 943.2,1285.2 943.6,1227.3 944.1,1213.0 944.5,1217.4 945.0,1337.5 945.4,1230.4 945.9,1258.1 946.3,1228.7 946.8,1342.0 947.2,1230.9 947.7,1309.4 948.1,1324.1 948.6,1299.5 949.0,1227.8 949.5,1264.1 949.9,1337.0 950.4,1339.9 950.8,1342.2 951.3,1352.0 951.7,1322.8 952.2,1271.0 952.6,1239.6 953.1,1356.3 953.5,1268.0 954.0,1322.8 954.4,1280.9 954.9,1352.8 955.3,1331.1 955.8,1350.5 956.2,1229.0 956.7,1240.0 957.1,1256.1 957.6,1350.0 958.0,1202.0 958.5,1337.2 958.9,1219.5 959.4,1351.0 959.8,1325.2 960.3,1328.7 960.7,1301.9 961.2,1303.6 961.6,1271.3 962.1,1332.4 962.5,1267.6 963.0,1371.3 963.4,1253.6 963.9,1304.6 964.3,1272.3 964.8,1280.2 965.2,1260.0 965.7,1316.1 966.1,1296.4 966.6,1371.1 967.0,1308.6 967.5,1304.7 967.9,1283.3 968.4,1340.4 968.8,1303.0 969.3,1366.3 969.7,1283.0 970.2,1319.5 970.6,1314.1 971.1,1342.6 971.5,1304.4 972.0,1324.6 972.4,1284.8 972.9,1336.7 973.3,1323.9 973.8,1329.0 974.2,1277.7 974.7,1387.3 975.1,1327.9 975.6,1361.6 976.0,1358.8 976.5,1392.8 976.9,1356.2" stroke="#00f" stroke-width="2.5"/>
<polyline points="977.0,1348.2 977.5,1361.6 978.0,1349.2 978.5,1375.9 979.0,1352.9 979.5,1367.2 980.0,1375.4 980.5,1391.2 981.0,1377.7 981.5,1389.8 982.0,1361.8 982.5,1391.2 983.0,1377.3 983.5,1393.3 984.0,1371.5 984.5,1393.1 985.0,1370.0 985.5,1371.1 986.0,1355.5 986.5,1363.5 987.0,1372.6 987.5,1386.1 988.0,1339.8 988.5,1332.0 989.0,1346.8 989.5,1373.6 990.0,1344.8 990.5,1361.9 991.0,1345.7 991.5,1380.5 992.0,1353.8 992.5,1377.5 993.0,1375.9 993.5,1371.0 994.0,1356.2 994.5,1390.7 995.0,1354.5 995.5,1378.2 996.0,1362.0 996.5,1382.5 997.0,1368.1 997.5,1391.4 998.0,1374.0 998.5,1384.7 999.0,1383.1 999.5,1386.0 1000.0,1372.7 1000.5,1389.7 1001.0,1369.7 1001.5,1382.5 1002.0,1372.0 1002.5,1385.9 1003.0,1387.7 1003.5,1392.3 1004.0,1368.8 1004.5,1380.0 1005.0,1372.5 1005.5,1389.9 1006.0,1373.5 1006.5,1378.1 1007.0,1353.2 1007.5,1367.3 1008.0,1345.7 1008.5,1365.3 1009.0,1376.0 1009.5,1392.9 1010.0,1354.4 1010.5,1359.2 1011.0,1341.6 1011.5,1379.7 1012.0,1372.8 1012.5,1339.0 1013.0,1375.6 1013.5,1389.1 1014.0,1373.7 1014.5,1378.8 1015.0,1380.8 1015.5,1379.9 1016.0,1364.4 1016.5,1389.5 1017.0,1364.4 1017.5,1371.2 1018.0,1342.5 1018.5,1366.7 1019.0,1358.9 1019.5,1332.0 1020.0,1366.1 1020.5,1355.6 1021.0,1362.1 1021.5,1380.9 1022.0,1349.3 1022.5,1386.7 1023.0,1360.6 1023.5,1380.5 1024.0,1374.4 1024.5,1384.3 1025.0,1351.3 1025.5,1377.4 1026.0,1357.4 1026.5,1385.1 1027.0,1363.1 1027.5,1389.6 1028.0,1364.9 1028.5,1385.9 1029.0,1364.8 1029.5,1393.0 1030.0,1387.6 1030.5,1390.3 1031.0,1393.0 1031.5,1396.3 1032.0,1389.1 1032.5,1395.4 1033.0,1391.3 1033.5,1396.9 1034.0,1389.5 1034.5,1393.1 1035.0,1391.3 1035.5,1384.2 1036.0,1382.2 1036.5,1379.9 1037.0,1383.1 1037.5,1390.5 1038.0,1367.2 1038.5,1392.4 1039.0,1358.0 1039.5,1392.2 1040.0,1362.3 1040.5,1375.6 1041.0,1366.2 1041.5,1389.4 1042.0,1367.1 1042.5,1396.2 1043.0,1378.0 1043.5,1387.7 1044.0,1388.5 1044.5,1396.9 1045.0,1388.0 1045.5,1383.5 1046.0,1390.1 1046.5,1395.0 1047.0,1378.1 1047.5,1383.6 1048.0,1385.7 1048.5,1399.5 1049.0,1384.9 1049.5,1399.3 1050.0,1386.6 1050.5,1393.1 1051.0,1389.7 1051.5,1394.2 1052.0,1378.4 1052.5,1384.7 1053.0,1382.6 1053.5,1395.9 1054.0,1379.3 1054.5,1387.3 1055.0,1376.5 1055.5,1398.0 1056.0,1393.4 1056.5,1400.2 1057.0,1390.6 1057.5,1397.6 1058.0,1390.0 1058.5,1400.0 1059.0,1398.2 1059.5,1397.1 1060.0,1396.4 1060.5,1401.1 1061.0,1395.6 1061.5,1402.2 1062.0,1400.8 1062.5,1401.5 1063.0,1399.1 1063.5,1401.6 1064.0,1399.3 1064.5,1401.7 1065.0,1399.9 1065.5,1402.3 1066.0,1401.5 1066.5,1402.1 1067.0,1400.9 1067.5,1402.9 1068.0,1401.8 1068.5,1401.1 1069.0,1399.5 1069.5,1401.9 1070.0,1401.8 1070.5,1402.7 1071.0,1399.6 1071.5,1402.0 1072.0,1400.0 1072.5,1402.6 1073.0,1399.7 1073.5,1402.2 1074.0,1400.0 1074.5,1401.0 1075.0,1401.5 1075.5,1402.4 1076.0,1400.2 1076.5,1402.8 1077.0,1400.9 1077.5,1401.7 1078.0,1399.9 1078.5,1402.5 1079.0,1399.7 1079.5,1400.6 1080.0,1400.9 1080.5,1401.9 1081.0,1400.5 1081.5,1401.3 1082.0,1401.7 1082.5,1401.5 1083.0,1399.5 1083.5,1401.8 1084.0,1400.8 1084.5,1402.1 1085.0,1401.0 1085.5,1401.3" stroke="#00f" stroke-width="2.5"/>
</g>
<line x1="685.50" y1="1402.4" x2="685.50" y2="864.4" stroke="#000" stroke-width="2.2" stroke-dasharray="2.2 6.133" stroke-dashoffset="0.1"/>
<line x1="707.50" y1="1402.4" x2="707.50" y2="864.4" stroke="#000" stroke-width="2.2" stroke-dasharray="2.2 6.133" stroke-dashoffset="0.1"/>
<line x1="729.50" y1="1402.4" x2="729.50" y2="864.4" stroke="#000" stroke-width="2.2" stroke-dasharray="2.2 6.133" stroke-dashoffset="0.1"/>
<line x1="752.50" y1="1402.4" x2="752.50" y2="864.4" stroke="#000" stroke-width="2.2" stroke-dasharray="2.2 6.133" stroke-dashoffset="0.1"/>
<line x1="774.50" y1="1402.4" x2="774.50" y2="864.4" stroke="#000" stroke-width="2.2" stroke-dasharray="2.2 6.133" stroke-dashoffset="0.1"/>
<line x1="796.50" y1="1402.4" x2="796.50" y2="864.4" stroke="#000" stroke-width="2.2" stroke-dasharray="2.2 6.133" stroke-dashoffset="0.1"/>
<line x1="818.50" y1="1402.4" x2="818.50" y2="864.4" stroke="#000" stroke-width="2.2" stroke-dasharray="2.2 6.133" stroke-dashoffset="0.1"/>
<line x1="840.50" y1="1402.4" x2="840.50" y2="864.4" stroke="#000" stroke-width="2.2" stroke-dasharray="2.2 6.133" stroke-dashoffset="0.1"/>
<line x1="863.50" y1="1402.4" x2="863.50" y2="864.4" stroke="#000" stroke-width="2.2" stroke-dasharray="2.2 6.133" stroke-dashoffset="0.1"/>
<line x1="885.50" y1="1402.4" x2="885.50" y2="864.4" stroke="#000" stroke-width="2.2" stroke-dasharray="2.2 6.133" stroke-dashoffset="0.1"/>
<line x1="907.50" y1="1402.4" x2="907.50" y2="864.4" stroke="#000" stroke-width="2.2" stroke-dasharray="2.2 6.133" stroke-dashoffset="0.1"/>
<line x1="929.50" y1="1402.4" x2="929.50" y2="864.4" stroke="#000" stroke-width="2.2" stroke-dasharray="2.2 6.133" stroke-dashoffset="0.1"/>
<line x1="952.50" y1="1402.4" x2="952.50" y2="864.4" stroke="#000" stroke-width="2.2" stroke-dasharray="2.2 6.133" stroke-dashoffset="0.1"/>
<line x1="974.50" y1="1402.4" x2="974.50" y2="864.4" stroke="#000" stroke-width="2.2" stroke-dasharray="2.2 6.133" stroke-dashoffset="0.1"/>
<line x1="996.50" y1="1402.4" x2="996.50" y2="864.4" stroke="#000" stroke-width="2.2" stroke-dasharray="2.2 6.133" stroke-dashoffset="0.1"/>
<line x1="1018.50" y1="1402.4" x2="1018.50" y2="864.4" stroke="#000" stroke-width="2.2" stroke-dasharray="2.2 6.133" stroke-dashoffset="0.1"/>
<line x1="1040.50" y1="1402.4" x2="1040.50" y2="864.4" stroke="#000" stroke-width="2.2" stroke-dasharray="2.2 6.133" stroke-dashoffset="0.1"/>
<line x1="1063.50" y1="1402.4" x2="1063.50" y2="864.4" stroke="#000" stroke-width="2.2" stroke-dasharray="2.2 6.133" stroke-dashoffset="0.1"/>
<line x1="1085.50" y1="1402.4" x2="1085.50" y2="864.4" stroke="#000" stroke-width="2.2" stroke-dasharray="2.2 6.133" stroke-dashoffset="0.1"/>
<text x="675.30" y="1412.30" text-anchor="end">0</text>
<text x="675.30" y="1322.63" text-anchor="end">100</text>
<text x="675.30" y="1232.97" text-anchor="end">200</text>
<text x="675.30" y="1143.30" text-anchor="end">300</text>
<text x="675.30" y="1053.63" text-anchor="end">400</text>
<text x="675.30" y="963.97" text-anchor="end">500</text>
<text x="675.30" y="874.30" text-anchor="end">600</text>
<text x="707.20" y="1436.10" text-anchor="middle">19:55</text>
<text x="818.20" y="1436.10" text-anchor="middle">20:00</text>
<text x="929.20" y="1436.10" text-anchor="middle">20:05</text>
<text x="1040.20" y="1436.10" text-anchor="middle">20:10</text>
<text x="885.50" y="848.90" text-anchor="middle" font-size="27" font-weight="bold" fill="#000">20140702 195447 Amp red(150MHz)</text>
<text x="884.30" y="1471.80" text-anchor="middle" font-size="27">UT, from 19:54 to 20:12 UT</text>
<text transform="translate(613.75,1133.40) rotate(-90)" x="0" y="0" text-anchor="middle" font-size="27">Amp</text>
</svg></body></html>
